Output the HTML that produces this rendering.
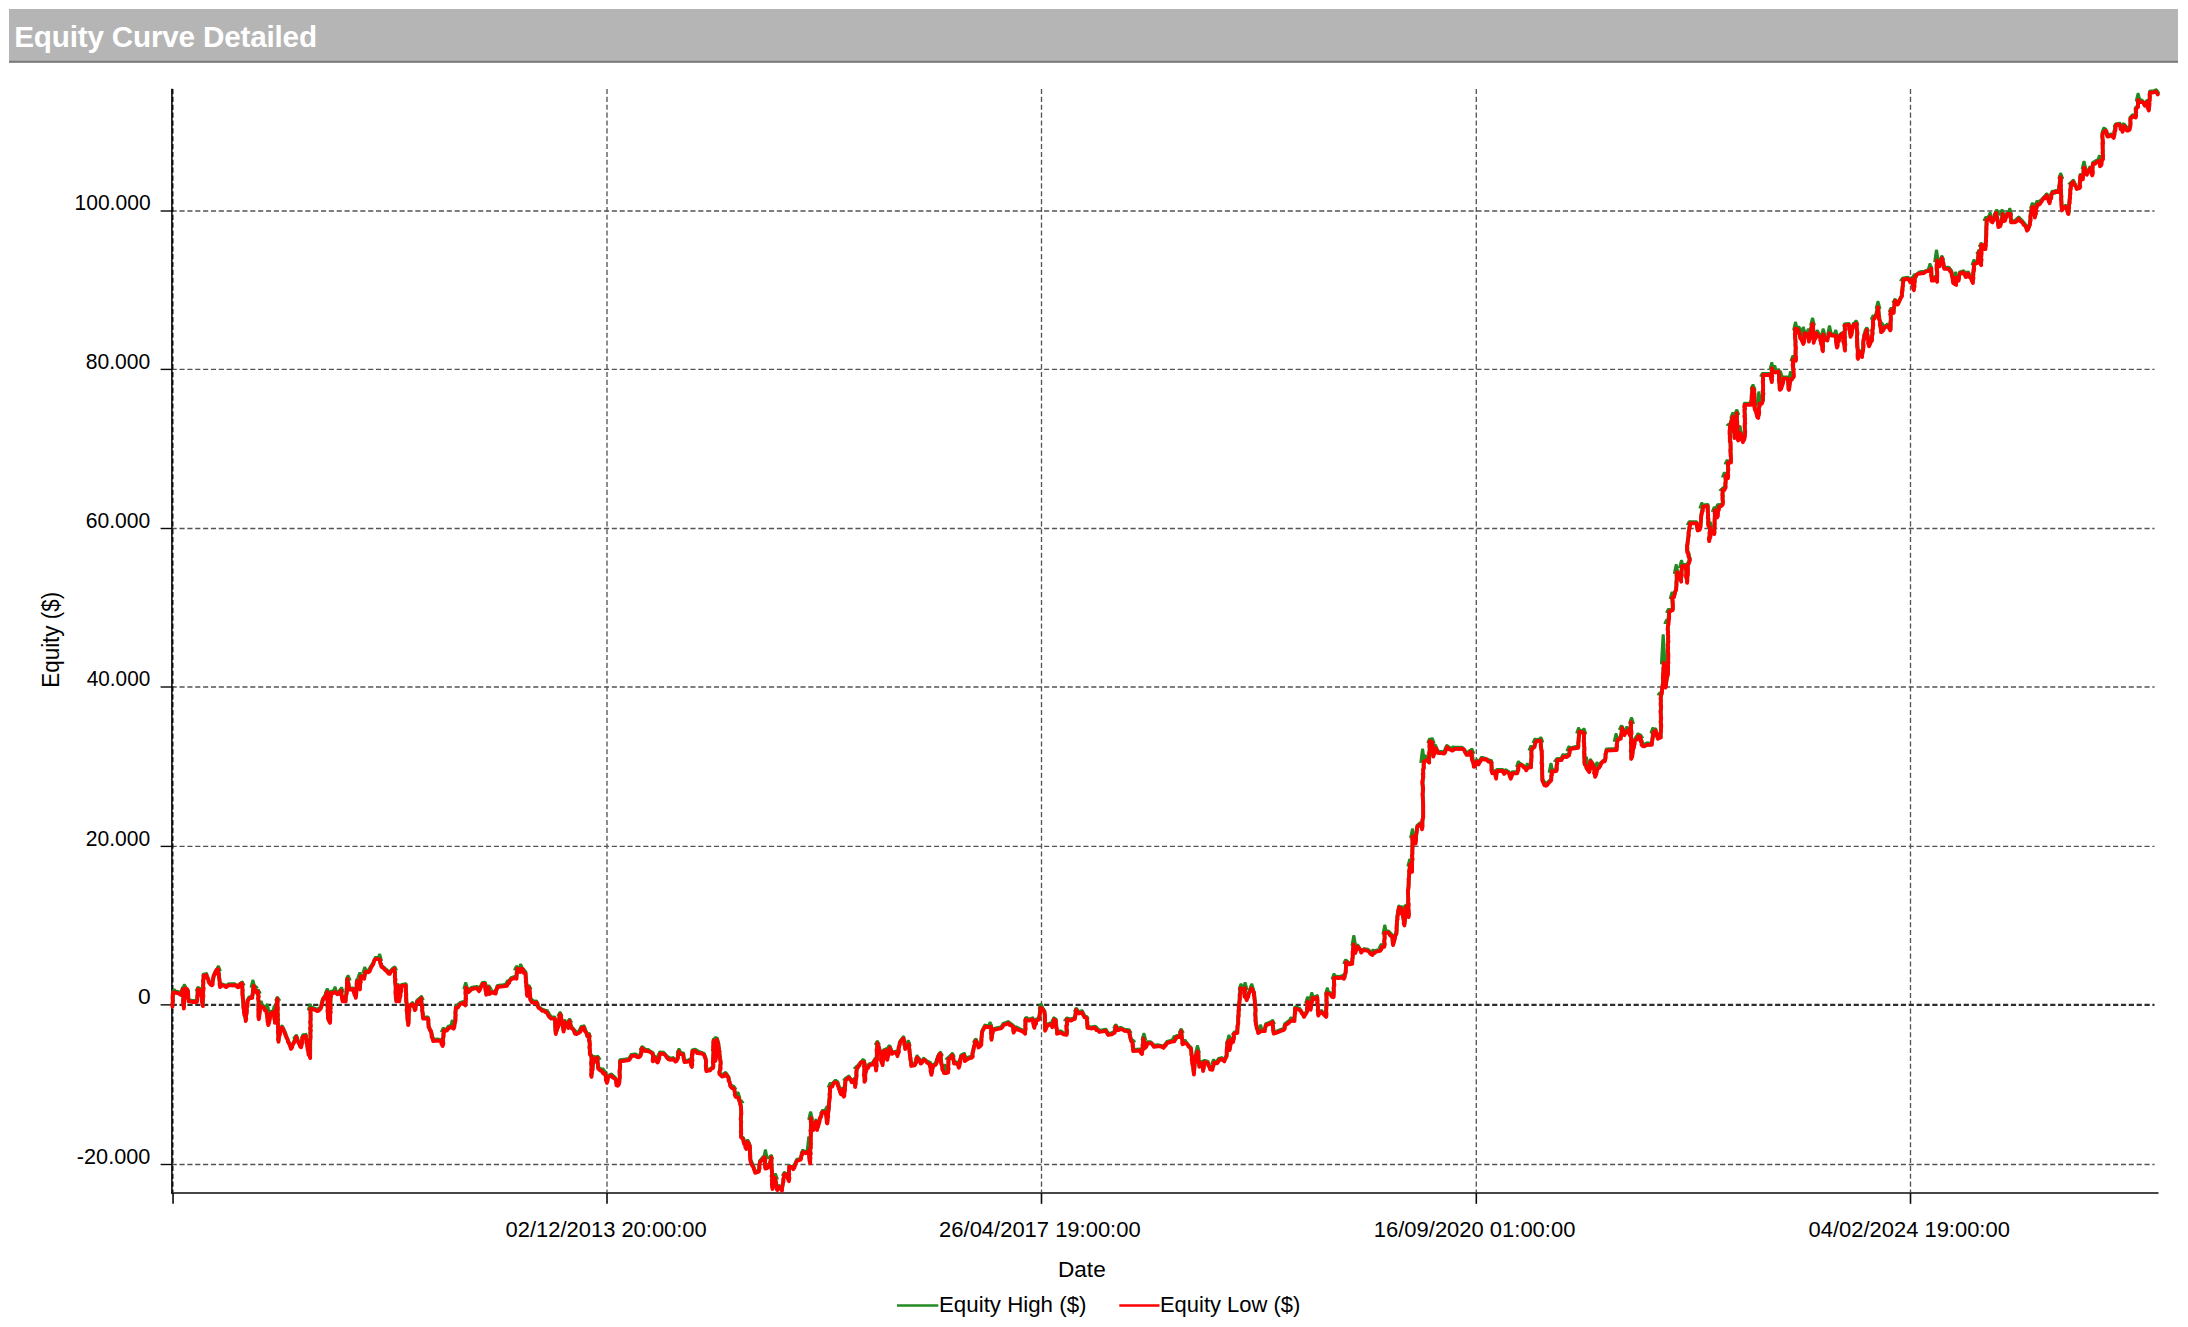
<!DOCTYPE html>
<html><head><meta charset="utf-8"><title>Equity Curve Detailed</title>
<style>
html,body{margin:0;padding:0;background:#fff;}
body{width:2188px;height:1327px;overflow:hidden;position:relative;font-family:"Liberation Sans",sans-serif;}
svg{position:absolute;left:0;top:0;}
text{font-family:"Liberation Sans",sans-serif;font-size:22.3px;fill:#000;}
</style></head><body>
<svg width="2188" height="1327" viewBox="0 0 2188 1327">

<rect x="9" y="9" width="2169" height="52" fill="#b5b5b5"/>
<rect x="9" y="60.8" width="2169" height="2" fill="#787878"/>
<text x="14.2" y="47.1" style="font-weight:bold;font-size:29.7px;fill:#fff;letter-spacing:-0.2px">Equity Curve Detailed</text>
<g stroke="#545454" stroke-width="1.33" stroke-dasharray="5.1 2.76" fill="none">
<path d="M171.65,211.0H2154.5"/>
<path d="M171.65,369.4H2154.5"/>
<path d="M171.65,528.5H2154.5"/>
<path d="M171.65,687.0H2154.5"/>
<path d="M171.65,846.4H2154.5"/>
<path d="M171.65,1164.5H2154.5"/>
<path d="M607,89V1192"/>
<path d="M1041.5,89V1192"/>
<path d="M1476.3,89V1192"/>
<path d="M1910.5,89V1192"/>
</g>
<path d="M171.65,1004.85H2154.5" stroke="#2e2e2e" stroke-width="2.2" stroke-dasharray="5.2 2.66" fill="none"/>
<path d="M172.75,89V1192" stroke="#161616" stroke-width="1.5" stroke-dasharray="5.2 2.66" fill="none"/>
<g stroke="#0a0a0a" stroke-width="1.6" fill="none">
<path d="M171.9,88.8V1193.7"/>
<path d="M171.1,1192.95H2158.5"/>
<path d="M160.6,211.0H172" stroke-width="1.4"/>
<path d="M160.6,369.4H172" stroke-width="1.4"/>
<path d="M160.6,528.5H172" stroke-width="1.4"/>
<path d="M160.6,687.0H172" stroke-width="1.4"/>
<path d="M160.6,846.4H172" stroke-width="1.4"/>
<path d="M160.6,1004.85H172" stroke-width="1.4"/>
<path d="M160.6,1164.5H172" stroke-width="1.4"/>
<path d="M173.05,1193V1203.8" stroke-width="1.6"/>
<path d="M607,1193V1203.8" stroke-width="1.6"/>
<path d="M1041.5,1193V1203.8" stroke-width="1.6"/>
<path d="M1476.3,1193V1203.8" stroke-width="1.6"/>
<path d="M1910.5,1193V1203.8" stroke-width="1.6"/>
</g>
<path d="M172.5,1005.6 L173.3,991.3 L177.9,991.9 L180.8,993.7 L182.6,988.3 L183.8,1007.4 L185,987.1 L188,990.7 L188.6,1000.2 L192.1,1000.8 L196.9,1000.8 L197.9,988.3 L199.9,988.9 L201.1,990.7 L202.9,1005 L203.5,974.6 L206.4,974 L208.8,981.2 L211.8,984.2 L214.8,972.8 L218.3,968.1 L220.1,985.9 L221.9,984.2 L226.1,985.9 L228.5,984.2 L233.8,984.2 L237.4,985.9 L242.1,982.4 L243.3,1005 L245.7,1019.9 L247.5,1000.2 L249.3,997.3 L252.3,996.7 L253.5,984.8 L255.2,988.3 L257,991.9 L258.2,990.7 L258.8,1018.1 L260.6,1005 L263.6,1006.2 L266.5,1009.8 L268.3,1024 L270.7,1012.1 L273.7,1010.9 L274.9,1021.7 L277.3,997.8 L278.5,1040.7 L280.2,1030 L282,1026.4 L285,1032.4 L288,1040.7 L291,1047.8 L294.5,1040.7 L296.3,1035.9 L298.1,1040.7 L301.1,1046.1 L302.9,1035.9 L305.8,1034.8 L308.2,1050.2 L310.2,1056.8 L310.6,1007.4 L314.8,1008.6 L317.1,1009.8 L320.7,1007.4 L322.5,1000.2 L325.5,994.9 L327.3,990.7 L327.9,1016.9 L330,1021.7 L330.8,991.9 L335,990.7 L337.4,993.1 L341,989.5 L342.7,1000.2 L345.7,1000.2 L347.5,977.6 L349.3,988.3 L352.9,988.3 L355.8,996.7 L357,980 L360,988.3 L360.6,975.2 L364.2,977.6 L366,970.5 L368.3,971.1 L373.1,963.3 L375.5,958 L379,958 L381.4,965.7 L385,968.7 L389.8,972.8 L392.1,969.3 L394.5,967.5 L396.3,1000.2 L398.1,984.8 L399.3,1000.2 L401.7,984.8 L405.8,984.2 L407,1012.1 L408.2,1024 L409.4,1006.2 L412.4,1003.1 L414.8,1009 L417.1,1000.7 L421.3,997.1 L421.9,1005.5 L423.1,1017.4 L427.9,1017.4 L428.5,1025.7 L431.4,1032.8 L433.2,1040 L437.4,1039.4 L441,1040 L442.7,1044.8 L443.9,1029.3 L446.9,1029.3 L448.7,1026.9 L451.1,1025.7 L453.5,1027.5 L455.2,1020.9 L455.8,1006.7 L460,1003.1 L463,1001.9 L465.4,1004.3 L466,986.4 L468.3,991.2 L471.9,987.6 L476.7,987 L479,990 L482.6,982.8 L485,982.8 L486.2,993.6 L488.6,986.4 L489.2,993 L492.1,991.2 L495.7,992.4 L497.5,985.8 L502.9,985.2 L507,984.6 L511.2,978.1 L514.8,976.9 L516.5,977.5 L517.1,967.4 L520.1,970.9 L521.3,967.4 L525.5,972.1 L527.3,994.8 L529,986.4 L530.2,998.3 L533.8,1001.9 L536.2,1001.3 L538.6,1006.7 L542.1,1009.6 L546.9,1011.4 L551.1,1017.4 L554.6,1017.4 L555.8,1032.8 L558.2,1025.7 L560.2,1013.2 L563.6,1030.5 L564.8,1020.9 L568.3,1026.9 L569.5,1019.8 L571.3,1026.9 L576.7,1032.8 L579,1031.7 L581.4,1026.9 L583.8,1026.3 L587.4,1035.2 L589.2,1034 L589.8,1053.1 L591.5,1055.5 L591.5,1075.7 L593.9,1057.8 L597.5,1056.7 L598.1,1067.4 L601.7,1069.8 L605.2,1072.1 L607,1081.7 L608.2,1075.7 L611.2,1074.5 L614.8,1077.5 L617.7,1084.6 L619.5,1080.5 L620.1,1060.2 L624.3,1059.6 L629,1059 L631.4,1054.9 L635,1054.3 L638.6,1056.1 L640.4,1054.9 L642.1,1047.1 L645.1,1049.5 L648.1,1050.1 L652.9,1053.1 L652.9,1060.2 L655.2,1056.7 L657.6,1061.4 L660,1052.5 L663.6,1052.7 L667.1,1056.8 L670.7,1058.6 L673.1,1058 L675.5,1060.4 L677.9,1057.4 L678.8,1050.3 L679.6,1052.7 L683.2,1053.3 L684.4,1061 L688.6,1060.4 L690.4,1059.2 L691.9,1065.8 L692.4,1050.3 L695.1,1049.7 L699.3,1052.1 L704,1053.8 L705.8,1058.6 L706.4,1069.9 L710,1069.3 L713,1066.9 L713.6,1039.6 L715.4,1059.8 L716.9,1038.4 L718.3,1043.1 L720.7,1062.7 L719.5,1072.9 L721.9,1075.3 L725.5,1072.9 L728.5,1077.1 L730.2,1084.8 L733.8,1087.2 L735.6,1095.5 L738.6,1096.7 L741,1106.2 L741,1136 L743.3,1138.4 L746.3,1147.9 L747.5,1140.8 L749.9,1145.5 L750.5,1159.8 L754,1168.1 L755.2,1171.7 L758.8,1170.5 L760,1161 L763,1157.4 L764.8,1156.2 L765.4,1167.5 L768.3,1164.6 L769.5,1165.8 L771.3,1156.2 L772.5,1187.8 L774.9,1176.5 L777.3,1189 L779,1186 L782,1189.6 L784.4,1172.9 L786.8,1174.1 L788.9,1180 L789.2,1165.8 L793.3,1168.1 L796.9,1159.8 L800.5,1158.6 L802.9,1150.9 L805.8,1152.1 L808.2,1150.3 L810.2,1162.2 L811,1116.9 L813.6,1128.8 L816,1120.5 L817.1,1128.8 L819.5,1120.5 L822.5,1111 L825.5,1111 L827.3,1122.3 L829,1105 L830.2,1086 L835,1081.2 L837.4,1081.8 L841,1093.1 L842.7,1088.4 L843.9,1095.5 L845.7,1078.8 L848.7,1076.5 L851.7,1081.2 L854.6,1078.8 L855.2,1086 L857,1066.9 L862.4,1061 L864.2,1061 L864.5,1080.6 L866.5,1066.9 L869.5,1064 L872.5,1063.4 L875.5,1058.6 L876.1,1069.3 L877.3,1041.9 L880.2,1051.5 L882.6,1064 L883.8,1050.3 L886.2,1049.1 L887.4,1058.6 L889.8,1046.7 L892.1,1052.7 L896.3,1051.5 L897.5,1055 L899.9,1041.9 L903.5,1037.2 L905.2,1047.9 L908.8,1043.1 L910,1055 L911.2,1064.8 L914.8,1064.2 L917.1,1056.4 L920.7,1062.4 L923.7,1058.8 L926.7,1061.2 L930.2,1063 L931.4,1073.7 L933.2,1064.8 L935.6,1063.6 L938,1056.4 L940.4,1052.8 L941.5,1063.6 L943.9,1071.9 L946.3,1071.9 L948.1,1071.3 L948.7,1057.6 L952.3,1054 L954,1062.4 L957.6,1062.4 L958.8,1066.5 L961.2,1055.2 L964.2,1054 L964.8,1060 L968.3,1057.6 L971.9,1056.4 L973.7,1047.5 L976.1,1039.8 L978.5,1046.3 L980.8,1044.5 L982,1031.4 L985,1025.5 L988.6,1026.1 L991,1025.5 L991.5,1038.6 L993.3,1029 L998.1,1027.8 L1001.1,1027.3 L1003.5,1023.7 L1008.2,1021.9 L1013,1025.5 L1013.6,1031.4 L1016,1027.3 L1019.5,1029 L1022.5,1030.2 L1025.2,1032.6 L1025.7,1018.3 L1029,1019.5 L1032.6,1018.3 L1034.4,1026.7 L1036.2,1019.5 L1039.2,1018.3 L1040.4,1006.4 L1042.1,1007.6 L1044.5,1011.2 L1045.1,1029.6 L1047.5,1024.3 L1051.1,1023.1 L1052.3,1026.1 L1054,1018.3 L1055.8,1019.5 L1057,1032.6 L1060.6,1031.4 L1063.6,1033.2 L1066.5,1033.8 L1066.9,1018.3 L1070.7,1019.5 L1074.9,1017.7 L1076.1,1008.8 L1079,1012.4 L1082,1011.2 L1084.4,1015.9 L1086.8,1017.1 L1087.4,1026.7 L1091,1027.3 L1095.1,1026.7 L1099.3,1030.8 L1102.9,1030.2 L1105.8,1029.6 L1108.2,1033.8 L1111.8,1033.2 L1114.8,1031.4 L1115.7,1025.5 L1118.3,1029 L1120.7,1027.8 L1124.3,1029.6 L1129,1030.2 L1130.8,1038.6 L1132.6,1042.1 L1133.2,1049.9 L1139.8,1049.3 L1142.1,1052.8 L1143.3,1037.4 L1145.1,1046.9 L1147.5,1042.1 L1150.5,1042.1 L1154,1045.7 L1157.6,1045.1 L1163.6,1046.7 L1167.1,1041.9 L1170.7,1040.7 L1174.3,1040.1 L1176.7,1035.9 L1179.6,1035.9 L1181.2,1030 L1182.6,1043.1 L1185.6,1041.9 L1188.6,1045.5 L1191,1047.8 L1192.1,1059.8 L1193.9,1073.4 L1195.7,1055 L1197.9,1050.2 L1199.3,1065.7 L1201.7,1062.1 L1203.1,1069.9 L1204.6,1060.9 L1207.6,1061.5 L1210,1068.1 L1212.4,1068.7 L1214.2,1061.5 L1217.1,1062.1 L1219.5,1058.6 L1221.9,1058 L1224.3,1060.3 L1226.7,1055 L1227.3,1041.9 L1229,1039.5 L1229.6,1049 L1231.4,1038.3 L1233.2,1040.7 L1234.4,1032.4 L1237.4,1031.8 L1238.6,1012.1 L1240.4,987.1 L1242.7,988.3 L1245.1,987.1 L1244.5,995.5 L1246.7,999 L1248.7,993.1 L1251.1,987.1 L1254,991.9 L1255.2,1005 L1255.8,1022.8 L1258.2,1031.8 L1261.2,1030 L1264.8,1030 L1266,1024 L1269.5,1022.8 L1272.5,1021.1 L1273.7,1032.4 L1277.3,1031.2 L1280.2,1030 L1283.8,1028.8 L1285,1024 L1289.8,1020.5 L1292.1,1019.3 L1294.5,1019.9 L1295.1,1007.4 L1299.3,1008.6 L1301.7,1012.1 L1304,1015.7 L1307,1010.9 L1307.6,1000.2 L1310.6,1008.6 L1312.4,996.7 L1314.8,997.8 L1317.1,996.1 L1318.3,1014.5 L1321.3,1010.9 L1323.7,1013.3 L1326.1,1015.7 L1326.7,991.9 L1330.2,993.1 L1333.2,996.1 L1334.4,976.4 L1338.6,977 L1341.5,976.4 L1343.9,977.6 L1345.7,971.7 L1346.3,960.9 L1349.3,963.3 L1352.3,962.7 L1353.5,943.1 L1355.2,952 L1357.6,945.5 L1361.2,951.4 L1364.2,949 L1367.7,949.6 L1372.5,953.8 L1375.5,950.8 L1380.2,949.6 L1382,945.5 L1384.2,945.7 L1384.8,931.4 L1388.3,931.4 L1391.9,935 L1393.1,943.9 L1394.9,937.4 L1396.7,930.2 L1397.3,915.9 L1399,906.4 L1401.4,907.6 L1404.4,924.3 L1406.8,905.2 L1408.6,915.9 L1408,892.1 L1408.6,885 L1409.8,863.5 L1411,865.9 L1412.1,870.7 L1412.5,835.2 L1415.5,842.4 L1417.3,825.7 L1420.2,823.3 L1422,828.1 L1423.2,813.8 L1422.6,784 L1423.8,760.2 L1426.8,759 L1429.2,761.4 L1429.8,740 L1432.1,741.2 L1433.3,755.5 L1435.7,747.1 L1438.1,751.9 L1441.7,751.9 L1444,752.5 L1447,745.9 L1450,748.3 L1452.4,749.5 L1454.8,747.7 L1461.9,747.7 L1464.9,750.7 L1466.7,753.7 L1470.2,750.7 L1471.4,750.7 L1473.8,765.6 L1476.8,760.2 L1478.6,763.2 L1481.5,757.8 L1484.5,758.4 L1488.1,760.2 L1491.1,760.8 L1492.3,772.1 L1495.2,770.9 L1496.2,777.5 L1497,769.8 L1502.4,769.8 L1504.2,772.7 L1506,770.3 L1508.9,772.1 L1510.7,777.5 L1512.5,772.1 L1517.3,772.1 L1518.5,765 L1520.2,763.8 L1523.8,766.2 L1526.2,769.2 L1528.6,766.2 L1531,766.2 L1531.5,748.3 L1534.5,745.9 L1536.3,740 L1540.5,739.4 L1541.7,753.1 L1542.3,779.3 L1545.8,784.6 L1548.8,781.7 L1551.2,779.3 L1551.8,769.8 L1554.8,770.3 L1556.5,769.8 L1557.1,759 L1561.3,759 L1564.3,755.5 L1569,754.3 L1570.2,748.3 L1575,747.1 L1578,746.5 L1579.2,730.5 L1583.9,731.7 L1584.5,762.6 L1587.5,768.6 L1589.3,770.9 L1590.5,760.2 L1593.5,765 L1595.2,775.7 L1597.6,767.4 L1601.2,762.6 L1604.8,760.2 L1606.5,749.5 L1616.7,748.9 L1617.3,738.8 L1620.8,737.6 L1622,726.9 L1624.4,734 L1627.4,729.3 L1629.8,734 L1631,720.9 L1631.2,757.8 L1633.9,745.9 L1635.1,738.8 L1638.1,735.2 L1640,735.2 L1642.4,744.8 L1647.1,743.6 L1651.9,743.6 L1653.1,731.7 L1655.5,729.3 L1657.9,737.6 L1660.8,736.4 L1660.8,695.9 L1662,691.2 L1663.2,679.3 L1663.8,661.4 L1665.6,686.4 L1668,672.1 L1668,624.5 L1669.2,610.2 L1672.7,609 L1672.1,596.5 L1673.9,595.9 L1676.2,588.8 L1676.8,570.9 L1679.2,573.3 L1681.2,580.5 L1681.9,565 L1685.7,565 L1687.1,581.7 L1687.9,563.8 L1689.9,559 L1686.9,548.3 L1689.9,522.1 L1696.4,522.1 L1697.6,529.3 L1700.6,525.7 L1701.2,515 L1703,505.5 L1707.7,504.9 L1708.3,524.5 L1710.1,526.3 L1709.2,540 L1711.3,530.5 L1714.3,532.8 L1714.9,509 L1717.3,516.2 L1719,505.5 L1722.6,503.7 L1722.6,488.8 L1725.6,486.4 L1725.6,474.5 L1728,476.9 L1728,461.4 L1731,461.4 L1729.8,426.2 L1732.7,415.5 L1734.5,436.9 L1736.7,411.9 L1738.1,439.3 L1740.5,432.1 L1742.9,441.1 L1745,433.3 L1744.6,403.6 L1751.2,403.6 L1752.4,386.9 L1754.2,389.3 L1754.8,408.3 L1758.3,416.7 L1759.5,402.4 L1761.9,402.4 L1763.1,398.8 L1763.1,373.8 L1770.2,373.8 L1771.8,380.9 L1771.8,367.2 L1773.2,370.2 L1775.6,371.4 L1778.6,370.2 L1779.8,388.7 L1782.1,384.5 L1783.3,377.4 L1787.5,377.4 L1789,388.7 L1790.5,379.8 L1793.5,376.2 L1792.9,358.3 L1795.8,359.5 L1795.2,327.4 L1798.2,328.6 L1801.2,338.1 L1803.3,342.8 L1804.8,332.1 L1807.7,333.3 L1808.9,340.5 L1811.3,327.4 L1812.5,322.6 L1813.7,341.7 L1816.7,332.1 L1820.2,335.7 L1822.9,350 L1823.2,333.3 L1824.4,338.1 L1827.4,339.3 L1829.2,332.1 L1832.1,334.5 L1835.7,334.5 L1836.9,346.4 L1839.3,335.7 L1842.3,333.3 L1845,349.4 L1844.6,324.4 L1848.8,323.8 L1850.6,335.7 L1853.6,323.8 L1856.5,322.6 L1857.7,348.8 L1858.1,357.7 L1860.1,351.2 L1862.1,355.9 L1864.3,334.5 L1866.7,328.6 L1869,345.2 L1872,339.3 L1873.2,319 L1876.2,314.3 L1878,305.9 L1879.8,321.4 L1881,330.9 L1884.5,326.2 L1888.1,325 L1890.2,329.2 L1890.7,324.8 L1890.7,309.3 L1893.7,311.7 L1894.9,299.8 L1897.9,303.3 L1902,295 L1903.2,278.3 L1908,277.7 L1910.4,281.3 L1911.5,278.3 L1913.9,289 L1915.1,275.9 L1919.3,272.4 L1924,271.8 L1928.8,270 L1931.2,267.6 L1931.8,279.5 L1934.8,277.1 L1937.1,280.7 L1936.9,259.3 L1939.5,265.2 L1941.9,256.9 L1944.3,267.6 L1948.5,267.6 L1951.4,271.2 L1953.2,281.9 L1956.2,283.7 L1955.6,276.5 L1958.6,279.5 L1959.8,272.4 L1963.3,271.2 L1965.7,275.9 L1968.1,272.4 L1972.9,281.9 L1974,262.8 L1977.6,261.7 L1978.8,250.9 L1981.2,264 L1981.2,243.8 L1985.4,248 L1986,236.7 L1986.5,218.8 L1990.1,215.8 L1992.5,221.2 L1996.1,211.7 L1998.5,225.9 L2001.4,221.2 L2002.6,212.8 L2004.4,220 L2007.4,212.8 L2010.4,212.8 L2011,221.2 L2014.5,221.2 L2018.7,217.6 L2022.3,221.2 L2025.2,224.8 L2027,229.5 L2030,223.6 L2030.6,214 L2032.4,205.7 L2034.8,216.4 L2037.1,203.3 L2041.9,199.8 L2046.7,194.4 L2049.6,202.1 L2052,192.6 L2056.2,190.8 L2058.6,190.8 L2059,189 L2060.4,175.9 L2061.9,209.3 L2065.5,205.7 L2068.5,212.8 L2070.9,183.1 L2073.2,180.7 L2076.8,187.8 L2079.8,186.7 L2080.4,174.8 L2082.8,178.3 L2084,166.4 L2086.9,173.6 L2089.9,167.6 L2092.3,174.2 L2092.9,162.8 L2097,160.5 L2099.4,159.8 L2100,165.2 L2103,158.1 L2102.4,133.1 L2105.4,129.5 L2107.8,135.5 L2111.3,134.3 L2113.7,136.7 L2115.5,124.8 L2119.7,123.6 L2122.6,130.7 L2124.4,124.8 L2128,129.5 L2130.4,124.8 L2130.4,117.6 L2132.8,115.2 L2135.7,116.4 L2135.7,108.1 L2138.1,105.7 L2138.1,98.6 L2142.3,100.9 L2144.7,104.5 L2147,100.9 L2148.8,109.3 L2150,91.4 L2153,91.4 L2156,90.2 L2157.8,93.2" stroke="#228b22" stroke-width="3.8" fill="none" stroke-linejoin="round" stroke-linecap="round"/>
<path d="M171.8,993.5L173.5,989.3L175.1,989.3L176.8,993.5ZM181.9,989.3L183.6,984.6L185.2,984.6L186.9,989.3ZM195.6,990.5L197.3,987L198.9,987L200.6,990.5ZM215.8,970.3L217.5,966.1L219.1,966.1L220.8,970.3ZM231.9,986.4L233.6,983.4L235.2,983.4L236.9,986.4ZM239.6,984.6L241.3,982.2L242.9,982.2L244.6,984.6ZM250.4,987L252.1,980.4L253.7,980.4L255.4,987ZM252.7,987.412L254.4,985.8L256,985.8L257.7,987.412ZM255.7,992.9L257.4,989.9L259,989.9L260.7,992.9ZM258.7,1007.2L260.4,1001.2L262,1001.2L263.7,1007.2ZM264.6,1010.88L266.3,1004.2L267.9,1004.2L269.6,1010.88ZM271.8,1013.1L273.5,1006L275.1,1006L276.8,1013.1ZM275.1,1000L276.8,997.7L278.4,997.7L280.1,1000ZM279.5,1028.6L281.2,1026.2L282.8,1026.2L284.5,1028.6ZM293.2,1038.1L294.9,1035.8L296.5,1035.8L298.2,1038.1ZM301,1037.3L302.7,1034L304.3,1034L306,1037.3ZM307.7,1009.6L309.4,1004.2L311,1004.2L312.7,1009.6ZM324.8,992.9L326.5,988.7L328.1,988.7L329.8,992.9ZM332.5,992.9L334.2,987L335.8,987L337.5,992.9ZM339,991.7L340.7,987.5L342.3,987.5L344,991.7ZM345.6,979.8L347.3,975.6L348.9,975.6L350.6,979.8ZM357.3,977.4L359,972.7L360.6,972.7L362.3,977.4ZM362.3,972.7L364,967.3L365.6,967.3L367.3,972.7ZM377.1,960.2L378.8,954.2L380.4,954.2L382.1,960.2ZM392,969.7L393.7,966.7L395.3,966.7L397,969.7ZM418.8,999.3L420.5,996.4L422.1,996.4L423.8,999.3ZM440.8,1031.5L442.5,1027.9L444.1,1027.9L445.8,1031.5ZM446.2,1028.35L447.9,1025.5L449.5,1025.5L451.2,1028.35ZM449.8,1027.9L451.5,1020.2L453.1,1020.2L454.8,1027.9ZM463.2,988.6L464.9,982.7L466.5,982.7L468.2,988.6ZM468.8,989.688L470.5,987.4L472.1,987.4L473.8,989.688ZM475.4,989.2L477.1,986.2L478.7,986.2L480.4,989.2ZM481.9,985L483.6,981.5L485.2,981.5L486.9,985ZM486.7,988.6L488.4,986.2L490,986.2L491.7,988.6ZM505.1,983.55L506.8,980.3L508.4,980.3L510.1,983.55ZM514,969.6L515.7,966L517.3,966L519,969.6ZM518.2,969.6L519.9,964.2L521.5,964.2L523.2,969.6ZM526.5,988.6L528.2,985.6L529.8,985.6L531.5,988.6ZM533.7,1003.5L535.4,1001.1L537,1001.1L538.7,1003.5ZM544.4,1013.04L546.1,1010L547.7,1010L549.4,1013.04ZM557.5,1015.4L559.2,1012.4L560.8,1012.4L562.5,1015.4ZM567,1022L568.7,1019L570.3,1019L572,1022ZM580.7,1028.5L582.4,1026.1L584,1026.1L585.7,1028.5ZM586.1,1036.2L587.8,1033.9L589.4,1033.9L591.1,1036.2ZM591.4,1059.54L593.1,1055.9L594.7,1055.9L596.4,1059.54ZM595.6,1058.9L597.3,1056.5L598.9,1056.5L600.6,1058.9ZM600.4,1071.8L602.1,1068.4L603.7,1068.4L605.4,1071.8ZM608.7,1076.7L610.4,1073.7L612,1073.7L613.7,1076.7ZM615.2,1083.13L616.9,1079.1L618.5,1079.1L620.2,1083.13ZM629.5,1056.75L631.2,1054.1L632.8,1054.1L634.5,1056.75ZM639.6,1049.3L641.3,1047L642.9,1047L644.6,1049.3ZM645,1051.88L646.7,1048.7L648.3,1048.7L650,1051.88ZM657.5,1054.7L659.2,1052.3L660.8,1052.3L662.5,1054.7ZM676.5,1052.5L678.2,1048.9L679.8,1048.9L681.5,1052.5ZM692,1051.9L693.7,1048.9L695.3,1048.9L697,1051.9ZM712.9,1040.6L714.6,1037L716.2,1037L717.9,1040.6ZM723,1075.1L724.7,1072.7L726.3,1072.7L728,1075.1ZM731.3,1088.4L733,1086.4L734.6,1086.4L736.3,1088.4ZM735.5,1098.06L737.2,1092.4L738.8,1092.4L740.5,1098.06ZM738.5,1102.46L740.2,1100.1L741.8,1100.1L743.5,1102.46ZM745,1143L746.7,1140L748.3,1140L750,1143ZM762.9,1158.4L764.6,1150.1L766.2,1150.1L767.9,1158.4ZM768.2,1158.4L769.9,1155.5L771.5,1155.5L773.2,1158.4ZM773,1178.7L774.7,1173.9L776.3,1173.9L778,1178.7ZM781.9,1175.1L783.6,1172.7L785.2,1172.7L786.9,1175.1ZM800.4,1153.1L802.1,1150.1L803.7,1150.1L805.4,1153.1ZM808.1,1119.1L809.8,1112L811.4,1112L813.1,1119.1ZM806.3,1152.5L808,1137L809.6,1137L811.3,1152.5ZM820,1113.2L821.7,1110.8L823.3,1110.8L825,1113.2ZM824.8,1109.24L826.5,1106L828.1,1106L829.8,1109.24ZM827.7,1086.7L829.4,1082.8L831,1082.8L832.7,1086.7ZM833.1,1083.4L834.8,1079.9L836.4,1079.9L838.1,1083.4ZM843.2,1079.85L844.9,1078.1L846.5,1078.1L848.2,1079.85ZM853.9,1068.12L855.6,1066.2L857.2,1066.2L858.9,1068.12ZM860.5,1063.2L862.2,1059L863.8,1059L865.5,1063.2ZM874.8,1044.1L876.5,1041.8L878.1,1041.8L879.8,1044.1ZM886.7,1048.9L888.4,1045.3L890,1045.3L891.7,1048.9ZM905.7,1045.3L907.4,1040.6L909,1040.6L910.7,1045.3ZM915.2,1058.6L916.9,1056.8L918.5,1056.8L920.2,1058.6ZM937.9,1055L939.6,1052.7L941.2,1052.7L942.9,1055ZM942,1070.99L943.7,1064.6L945.3,1064.6L947,1070.99ZM945.6,1058.9L947.3,1057.4L948.9,1057.4L950.6,1058.9ZM949.8,1056.2L951.5,1053.3L953.1,1053.3L954.8,1056.2ZM961.1,1056.2L962.8,1053.3L964.4,1053.3L966.1,1056.2ZM973,1042L974.7,1039L976.3,1039L978,1042ZM983.1,1027.7L984.8,1025.9L986.4,1025.9L988.1,1027.7ZM987.6,1027.7L989.3,1022.3L990.9,1022.3L992.6,1027.7ZM1005.7,1024.1L1007.4,1022.3L1009,1022.3L1010.7,1024.1ZM1024.2,1020.5L1025.9,1017L1027.5,1017L1029.2,1020.5ZM1032.5,1021.58L1034.2,1019.3L1035.8,1019.3L1037.5,1021.58ZM1038.5,1008.6L1040.2,1003.9L1041.8,1003.9L1043.5,1008.6ZM1051.5,1020.5L1053.2,1018.1L1054.8,1018.1L1056.5,1020.5ZM1058.1,1033.6L1059.8,1030.6L1061.4,1030.6L1063.1,1033.6ZM1064,1020.5L1065.7,1018.1L1067.3,1018.1L1069,1020.5ZM1073.9,1011L1075.6,1008.6L1077.2,1008.6L1078.9,1011ZM1078.9,1013.4L1080.6,1010.4L1082.2,1010.4L1083.9,1013.4ZM1083.7,1018.25L1085.4,1016.4L1087,1016.4L1088.7,1018.25ZM1093.2,1028.9L1094.9,1026.5L1096.5,1026.5L1098.2,1028.9ZM1113.2,1027.7L1114.9,1024.7L1116.5,1024.7L1118.2,1027.7ZM1118.2,1030L1119.9,1027.7L1121.5,1027.7L1123.2,1030ZM1126.5,1032.21L1128.2,1030L1129.8,1030L1131.5,1032.21ZM1130.1,1041.38L1131.8,1039.6L1133.4,1039.6L1135.1,1041.38ZM1141.4,1039.6L1143.1,1033.6L1144.7,1033.6L1146.4,1039.6ZM1148,1044.3L1149.7,1042.5L1151.3,1042.5L1153,1044.3ZM1171.8,1039.67L1173.5,1035.8L1175.1,1035.8L1176.8,1039.67ZM1178.7,1032.2L1180.4,1029.2L1182,1029.2L1183.7,1032.2ZM1182.5,1044.1L1184.2,1039.9L1185.8,1039.9L1187.5,1044.1ZM1195,1052.4L1196.7,1045.9L1198.3,1045.9L1200,1052.4ZM1201,1063.1L1202.7,1060.2L1204.3,1060.2L1206,1063.1ZM1211.1,1063.7L1212.8,1059.6L1214.4,1059.6L1216.1,1063.7ZM1216.4,1060.58L1218.1,1057.8L1219.7,1057.8L1221.4,1060.58ZM1226.5,1041.7L1228.2,1035.2L1229.8,1035.2L1231.5,1041.7ZM1231.9,1034.3L1233.6,1032.2L1235.2,1032.2L1236.9,1034.3ZM1238.5,989.3L1240.2,984L1241.8,984L1243.5,989.3ZM1242.6,989.3L1244.3,982.8L1245.9,982.8L1247.6,989.3ZM1249.2,989.3L1250.9,984L1252.5,984L1254.2,989.3ZM1258.1,1032.2L1259.8,1025L1261.4,1025L1263.1,1032.2ZM1264.6,1025.31L1266.3,1022.7L1267.9,1022.7L1269.6,1025.31ZM1270,1023.3L1271.7,1020.3L1273.3,1020.3L1275,1023.3ZM1288.5,1021.5L1290.2,1017.3L1291.8,1017.3L1293.5,1021.5ZM1293.8,1009.6L1295.5,1006.6L1297.1,1006.6L1298.8,1009.6ZM1305.1,1002.4L1306.8,997.1L1308.4,997.1L1310.1,1002.4ZM1309.3,998.9L1311,992.9L1312.6,992.9L1314.3,998.9ZM1313.5,998.3L1315.2,995.9L1316.8,995.9L1318.5,998.3ZM1324.8,994.1L1326.5,988.1L1328.1,988.1L1329.8,994.1ZM1331.5,978.6L1333.2,973.9L1334.8,973.9L1336.5,978.6ZM1340.8,976.85L1342.5,974.5L1344.1,974.5L1345.8,976.85ZM1343.2,963.1L1344.9,959.6L1346.5,959.6L1348.2,963.1ZM1351.3,945.3L1353,935.8L1354.6,935.8L1356.3,945.3ZM1355.1,947.7L1356.8,945.3L1358.4,945.3L1360.1,947.7ZM1370.6,953.9L1372.3,949.5L1373.9,949.5L1375.6,953.9ZM1378.7,947.7L1380.4,944.1L1382,944.1L1383.7,947.7ZM1382.3,933.6L1384,925.3L1385.6,925.3L1387.3,933.6ZM1399.5,909.35L1401.2,906.2L1402.8,906.2L1404.5,909.35ZM1403.1,907.4L1404.8,905L1406.4,905L1408.1,907.4ZM1407.3,865.7L1409,859.2L1410.6,859.2L1412.3,865.7ZM1410,837.4L1411.7,829.1L1413.3,829.1L1415,837.4ZM1420.1,762.28L1421.8,749.3L1423.4,749.3L1425.1,762.28ZM1423.1,761.2L1424.8,755.3L1426.4,755.3L1428.1,761.2ZM1427.3,742.2L1429,738.6L1430.6,738.6L1432.3,742.2ZM1429.6,742.617L1431.3,738L1432.9,738L1434.6,742.617ZM1432.6,749.3L1434.3,744.6L1435.9,744.6L1437.6,749.3ZM1444.5,748.1L1446.2,746.4L1447.8,746.4L1449.5,748.1ZM1450.5,750.125L1452.2,746.4L1453.8,746.4L1455.5,750.125ZM1456.4,749.9L1458.1,747L1459.7,747L1461.4,749.9ZM1469.3,752.9L1471,748.7L1472.6,748.7L1474.3,752.9ZM1479.6,760L1481.3,757.1L1482.9,757.1L1484.6,760ZM1488,762.58L1489.7,760L1491.3,760L1493,762.58ZM1501.7,772.483L1503.4,769.6L1505,769.6L1506.7,772.483ZM1516,766.141L1517.7,761.2L1519.3,761.2L1521,766.141ZM1524.9,768.4L1526.6,763.6L1528.2,763.6L1529.9,768.4ZM1528.5,749.7L1530.2,745.8L1531.8,745.8L1533.5,749.7ZM1532.6,742.157L1534.3,738.6L1535.9,738.6L1537.6,742.157ZM1538.3,741.6L1540,737.4L1541.6,737.4L1543.3,741.6ZM1548.5,772L1550.2,763.6L1551.8,763.6L1553.5,772ZM1554,761.2L1555.7,758.9L1557.3,758.9L1559,761.2ZM1560.6,757.623L1562.3,754.1L1563.9,754.1L1565.6,757.623ZM1566.5,750.425L1568.2,746.4L1569.8,746.4L1571.5,750.425ZM1573.7,748.76L1575.4,745.8L1577,745.8L1578.7,748.76ZM1576.1,732.7L1577.8,727.9L1579.4,727.9L1581.1,732.7ZM1581.4,733.517L1583.1,728.5L1584.7,728.5L1586.4,733.517ZM1583.8,765.4L1585.5,757.1L1587.1,757.1L1588.8,765.4ZM1594.5,768.4L1596.2,762.4L1597.8,762.4L1599.5,768.4ZM1613.6,740.897L1615.3,733.9L1616.9,733.9L1618.6,740.897ZM1618.9,729.1L1620.6,725.5L1622.2,725.5L1623.9,729.1ZM1624.3,731.5L1626,726.7L1627.6,726.7L1629.3,731.5ZM1629,723.1L1630.7,717.8L1632.3,717.8L1634,723.1ZM1635.6,737.4L1637.3,733.3L1638.9,733.3L1640.6,737.4ZM1638.1,737.4L1639.8,735L1641.4,735L1643.1,737.4ZM1645.2,745.8L1646.9,742.2L1648.5,742.2L1650.2,745.8ZM1650.4,732.6L1652.1,727.9L1653.7,727.9L1655.4,732.6ZM1657.7,694.575L1659.4,692.2L1661,692.2L1662.7,694.575ZM1660.7,663.6L1662.4,662.4L1664,662.4L1665.7,663.6ZM1660.7,663.6L1662.4,648.1L1664,648.1L1665.7,663.6ZM1660.7,663.6L1662.4,635L1664,635L1665.7,663.6ZM1664.3,623.125L1666,619.6L1667.6,619.6L1669.3,623.125ZM1666.1,612.091L1667.8,608.9L1669.4,608.9L1671.1,612.091ZM1669.6,598.2L1671.3,592.2L1672.9,592.2L1674.6,598.2ZM1673.7,573.1L1675.4,564.8L1677,564.8L1678.7,573.1ZM1679,567.2L1680.7,560.6L1682.3,560.6L1684,567.2ZM1686.8,524.3L1688.5,521.4L1690.1,521.4L1691.8,524.3ZM1699.3,507.662L1701,502.9L1702.6,502.9L1704.3,507.662ZM1711.8,511.2L1713.5,507.1L1715.1,507.1L1716.8,511.2ZM1707.6,527L1709.3,522L1710.9,522L1712.6,527ZM1715.4,507.5L1717.1,504.1L1718.7,504.1L1720.4,507.5ZM1719.5,490.28L1721.2,488.6L1722.8,488.6L1724.5,490.28ZM1721.9,476.7L1723.6,472.5L1725.2,472.5L1726.9,476.7ZM1724.6,463.6L1726.3,460L1727.9,460L1729.6,463.6ZM1726.7,425.079L1728.4,423.6L1730,423.6L1731.7,425.079ZM1730.2,417.7L1731.9,412.9L1733.5,412.9L1735.2,417.7ZM1734.2,414.1L1735.9,409.9L1737.5,409.9L1739.2,414.1ZM1737.4,434.3L1739.1,426L1740.7,426L1742.4,434.3ZM1750.5,389.1L1752.2,384.9L1753.8,384.9L1755.5,389.1ZM1756.4,404.6L1758.1,392.1L1759.7,392.1L1761.4,404.6ZM1760.2,376L1761.9,373L1763.5,373L1765.2,376ZM1769.3,369.4L1771,362.9L1772.6,362.9L1774.3,369.4ZM1772.3,372.45L1774,365.9L1775.6,365.9L1777.3,372.45ZM1777.9,377.025L1779.6,371.2L1781.2,371.2L1782.9,377.025ZM1788,380.2L1789.7,371.8L1791.3,371.8L1793,380.2ZM1790.4,360.5L1792.1,355.8L1793.7,355.8L1795.4,360.5ZM1793,329.6L1794.7,322.4L1796.3,322.4L1798,329.6ZM1796.3,330.44L1798,326.6L1799.6,326.6L1801.3,330.44ZM1800.8,334.3L1802.5,327.2L1804.1,327.2L1805.8,334.3ZM1805.8,335.128L1807.5,329L1809.1,329L1810.8,335.128ZM1810,324.8L1811.7,318.3L1813.3,318.3L1815,324.8ZM1814.8,334.3L1816.5,330.2L1818.1,330.2L1819.8,334.3ZM1820.7,335.5L1822.4,329L1824,329L1825.7,335.5ZM1827,334.3L1828.7,326L1830.3,326L1832,334.3ZM1833.2,336.7L1834.9,330.2L1836.5,330.2L1838.2,336.7ZM1839.2,335.5L1840.9,332.5L1842.5,332.5L1844.2,335.5ZM1843.3,326.214L1845,323.6L1846.6,323.6L1848.3,326.214ZM1853.5,324.8L1855.2,320.6L1856.8,320.6L1858.5,324.8ZM1864.2,330.8L1865.9,327.8L1867.5,327.8L1869.2,330.8ZM1870.7,318.85L1872.4,315.3L1874,315.3L1875.7,318.85ZM1875.5,308.1L1877.2,301.6L1878.8,301.6L1880.5,308.1ZM1879,325.183L1880.7,322.4L1882.3,322.4L1884,325.183ZM1885,327.2L1886.7,323.6L1888.3,323.6L1890,327.2ZM1888.8,311.5L1890.5,307.9L1892.1,307.9L1893.8,311.5ZM1892.4,302L1894.1,299.6L1895.7,299.6L1897.4,302ZM1900.1,280.387L1901.8,278.1L1903.4,278.1L1905.1,280.387ZM1912,277.35L1913.7,274L1915.3,274L1917,277.35ZM1919.2,274.102L1920.9,271L1922.5,271L1924.2,274.102ZM1927.5,269.8L1929.2,263.9L1930.8,263.9L1932.5,269.8ZM1934,261.5L1935.7,250.2L1937.3,250.2L1939,261.5ZM1939.4,259.1L1941.1,256.7L1942.7,256.7L1944.4,259.1ZM1946.5,269.8L1948.2,267.4L1949.8,267.4L1951.5,269.8ZM1953.1,278.7L1954.8,272.2L1956.4,272.2L1958.1,278.7ZM1963.2,275.163L1964.9,271.6L1966.5,271.6L1968.2,275.163ZM1971.5,264.542L1973.2,259.7L1974.8,259.7L1976.5,264.542ZM1976.3,253.1L1978,251.4L1979.6,251.4L1981.3,253.1ZM1978.7,246L1980.4,243.6L1982,243.6L1983.7,246ZM1983.5,220.167L1985.2,216.8L1986.8,216.8L1988.5,220.167ZM1987.6,218L1989.3,212.7L1990.9,212.7L1992.6,218ZM1994.2,213.9L1995.9,209.7L1997.5,209.7L1999.2,213.9ZM1999.5,215L2001.2,209.7L2002.8,209.7L2004.5,215ZM2007.3,215L2009,208.5L2010.6,208.5L2012.3,215ZM2016.2,219.8L2017.9,216.8L2019.5,216.8L2021.2,219.8ZM2029.9,207.9L2031.6,203.1L2033.2,203.1L2034.9,207.9ZM2034.6,204.406L2036.3,200.8L2037.9,200.8L2039.6,204.406ZM2044.2,196.6L2045.9,193.6L2047.5,193.6L2049.2,196.6ZM2050.1,193.9L2051.8,190.6L2053.4,190.6L2055.1,193.9ZM2050.5,193.729L2052.2,191.2L2053.8,191.2L2055.5,193.729ZM2058.2,178.1L2059.9,173.4L2061.5,173.4L2063.2,178.1ZM2068.4,183.735L2070.1,182.3L2071.7,182.3L2073.4,183.735ZM2081.5,168.6L2083.2,161.5L2084.8,161.5L2086.5,168.6ZM2096.9,162L2098.6,155.5L2100.2,155.5L2101.9,162ZM2101.5,131.7L2103.2,127.5L2104.8,127.5L2106.5,131.7ZM2113.6,126.4L2115.3,123.4L2116.9,123.4L2118.6,126.4ZM2120.7,127L2122.4,123.4L2124,123.4L2125.7,127ZM2135.6,100.8L2137.3,93.6L2138.9,93.6L2140.6,100.8ZM2154.1,92.4L2155.8,90L2157.4,90L2159.1,92.4Z" stroke="#228b22" stroke-width="1.6" fill="#228b22" stroke-linejoin="round"/>
<path d="M172.5,1006.8 L172.4,1003.7 L172.9,1001.4 L172.9,1000.3 L172.5,998.7 L172.6,996.4 L172.8,993.3 L173.3,992.5 L177.9,993.1 L180.8,994.9 L181.6,993.2 L182.6,989.5 L182.3,990.6 L183,994.7 L183,994.9 L183.6,995.8 L183.6,998.4 L183,999.8 L183.2,1003.8 L183.2,1005 L183.8,1006.3 L183.8,1008.6 L184,1005.3 L183.6,1003.7 L184.3,1002.3 L184.1,1000.7 L184.4,997.8 L184.8,997 L184.4,994.6 L184.8,993.5 L185.1,989.7 L185,988.3 L187,989 L188,991.9 L188,994.6 L187.9,995.7 L187.9,998.1 L188.7,999.7 L188.6,1001.4 L192.1,1002 L196.9,1002 L197.4,999.4 L197.4,998.1 L197.5,995.6 L197.9,995 L197.7,992.1 L197.9,989.5 L199.9,990.1 L201.1,991.9 L200.9,994.5 L201.8,997.5 L202.2,997.4 L202,1000.6 L201.9,1002 L202.3,1003 L202.9,1006.2 L202.5,1005.1 L202.6,1001.6 L202.9,1001.6 L202.6,998.4 L203.1,997.9 L203.4,995.9 L202.9,992.6 L203.1,992.2 L203.7,988.1 L203,986.4 L203,985.3 L203.4,982.7 L202.9,981.3 L203.3,979.8 L203.9,978.3 L203.5,975.8 L206.4,975.2 L207.2,978 L208.2,978.7 L208.8,982.4 L210.7,984.7 L211.8,985.4 L212.7,984.4 L212.7,981.3 L212.9,980.1 L213.4,976.5 L214,974.9 L214.8,974 L215.8,971.1 L216.6,969.8 L218.3,969.3 L218.1,970.9 L218.2,974.4 L219,974.2 L218.9,976.8 L219.2,978.1 L219.8,982.6 L219.7,983.1 L219.5,983.9 L220.1,987.1 L221.9,985.4 L223.8,985.5 L226.1,987.1 L228.5,985.4 L233.8,985.4 L235.9,985.2 L237.4,987.1 L238.5,987.3 L240.6,983.7 L242.1,983.6 L242.3,984.2 L242.3,989.1 L242.8,990.4 L242.3,991.4 L242.3,994.7 L242.8,996.8 L242.7,997.2 L243.3,1001.5 L243.4,1003 L243.5,1004.9 L243.3,1006.2 L243.4,1008.4 L243.8,1009 L243.9,1011.9 L244.4,1015.3 L245.5,1016.7 L245.8,1020.4 L245.7,1021.1 L246.3,1018.7 L245.8,1016.3 L245.9,1014.3 L246.5,1014.4 L246.9,1011.2 L246.9,1010.2 L246.5,1007.8 L247.5,1006.2 L247.6,1003.3 L247.5,1001.4 L249.3,998.5 L252.3,997.9 L252.2,996.8 L252.5,994.8 L253.4,991.6 L253,991.3 L253.5,987 L253.5,986 L254,986.7 L255.2,989.5 L256.5,992.2 L257,993.1 L258.2,991.9 L257.9,994.8 L258.8,996.3 L258.2,997.9 L258,998.3 L258.9,1002.1 L258.5,1004.9 L258.4,1006.7 L258.9,1006.7 L258.3,1008.9 L258.4,1011.7 L258.4,1013.2 L258.3,1016.6 L258.6,1017.2 L258.8,1019.3 L259.2,1018.3 L259.3,1016.2 L259.7,1012.8 L260,1009.1 L260.2,1007.4 L260.6,1006.2 L263.6,1007.4 L264.6,1010.1 L266.5,1011 L266.4,1012.9 L267.2,1015.2 L267.1,1017.1 L267.6,1020 L267.4,1021.3 L267.8,1022.5 L268.3,1025.2 L269,1023.2 L269.2,1022 L269.9,1019.1 L270,1017.3 L270.3,1015.9 L270.7,1013.3 L273.7,1012.1 L273.9,1014.4 L274.2,1017.7 L274.6,1019.7 L275.1,1020 L274.9,1022.9 L275.2,1022.2 L275.6,1017.8 L275.1,1016.8 L275.3,1014.2 L275.5,1013.5 L276.4,1012.1 L276,1009.6 L276.7,1005.9 L277.1,1006.4 L276.6,1004.3 L277,1001 L277.3,999 L277.8,1001.9 L277.1,1002.7 L277.5,1004.4 L277.2,1006.3 L277.8,1007.3 L277.7,1010.5 L277.2,1012.1 L277.9,1014.6 L277.4,1018 L278.1,1019.9 L277.5,1019.7 L277.5,1023.2 L277.8,1023.2 L278,1027.5 L278.4,1027.5 L277.8,1031.5 L278.3,1032.8 L277.9,1032.8 L278.5,1035.8 L278,1039.3 L278.6,1040.9 L278.5,1041.9 L278.4,1040.8 L278.7,1038.7 L279.5,1035 L279.9,1034.6 L280.2,1031.2 L280.9,1028.3 L282,1027.6 L283,1028.8 L283.6,1030.6 L285,1033.6 L285.3,1034.8 L286.3,1037.2 L287.5,1039.2 L288,1041.9 L288.8,1042.7 L289.3,1044 L290,1045.8 L291,1049 L292.1,1047.4 L292.4,1045.4 L294.1,1042.5 L294.5,1041.9 L295.7,1039.3 L296.3,1037.1 L297.2,1040.5 L298.1,1041.9 L299,1043.7 L300.3,1046.9 L301.1,1047.3 L301.3,1046.3 L302,1043.6 L302.1,1040.7 L302.1,1038 L302.9,1037.1 L305.8,1036 L305.7,1038.6 L306.2,1038.8 L306.3,1042.8 L307.4,1044.2 L307.1,1044.9 L307.4,1047.4 L307.6,1049.3 L308.2,1051.4 L308.6,1055 L310,1055.9 L310.2,1058 L310,1057.5 L310,1053.8 L309.7,1051.9 L310.2,1050.4 L310,1048.5 L309.8,1045.9 L309.9,1044.4 L309.9,1041.4 L310.1,1040.1 L310.4,1039.1 L310.6,1037.6 L310.6,1036.3 L310.3,1032.8 L310.9,1030.3 L310.7,1029.9 L310,1028.6 L310.9,1026.1 L310.7,1024.7 L310.1,1022 L310.5,1021 L310.8,1019.1 L310.6,1017.4 L310.7,1014.9 L310.3,1011 L310.2,1010.1 L310.6,1008.6 L314.8,1009.8 L317.1,1011 L318.5,1010.8 L320.7,1008.6 L321.4,1006.6 L322,1004.3 L322.5,1001.4 L323.5,998.1 L324.8,998.6 L325.5,996.1 L326.4,994.1 L327.3,991.9 L327.5,992.6 L327.6,995.2 L327,997.2 L327.7,999.1 L327.8,1003.4 L327.6,1003.6 L327.6,1006.6 L327.9,1008.4 L327.9,1008.8 L327.4,1011.3 L328.1,1013.5 L327.9,1014.6 L327.9,1018.1 L328.5,1019.8 L330,1022.9 L330.2,1021.5 L330.3,1018.3 L330.2,1016.8 L330.2,1013.8 L330.7,1012.1 L330.8,1012.3 L329.9,1008.9 L330.7,1008.4 L330.4,1004.3 L330.2,1004.4 L330.3,1001.3 L330.3,999.1 L331.1,996 L331.1,995.1 L330.8,993.1 L333.3,993.1 L335,991.9 L337.4,994.3 L338.9,993.7 L341,990.7 L341.3,991.4 L341.2,995 L342,996.5 L342,998.8 L342.7,1001.4 L345.7,1001.4 L345.7,1000.4 L345.5,998 L346.5,994.1 L346.8,993.8 L346.9,990.5 L346.6,988.8 L347.3,987.3 L346.9,984.7 L346.9,981.6 L346.9,981.9 L347.5,978.8 L347.6,982.2 L348,982.4 L348.6,984.3 L348.8,988.7 L349.3,989.5 L352.9,989.5 L354,992.5 L354.5,994.9 L355.5,995.9 L355.8,997.9 L356.2,994.5 L356.3,993.6 L356.5,992.1 L356.2,988.2 L357,986.3 L356.7,984.9 L356.6,984 L357,981.2 L358.2,982.6 L358.7,984.8 L359.3,987.1 L360,989.5 L359.8,986.3 L359.9,986.4 L360.3,982.1 L360.8,982.3 L360.4,977.5 L360.6,976.4 L362.1,976.4 L364.2,978.8 L364.6,975.2 L365.1,973.3 L366,971.7 L368.3,972.3 L369.6,971.5 L370.9,968.1 L371.8,966.5 L373.1,964.5 L373.8,962.2 L374.3,960.3 L375.5,959.2 L379,959.2 L380.1,960 L380.2,963.4 L381.2,964.1 L381.4,966.9 L383,967.6 L385,969.9 L386.5,971.1 L388.7,973.7 L389.8,974 L391.3,970.8 L392.1,970.5 L394.5,968.7 L394.1,971.3 L395.1,972.5 L394.9,973 L394.8,977.7 L395.4,979.4 L395.6,979.5 L394.9,981.1 L395.4,984.6 L395.9,986.7 L395.7,988.7 L395.6,990 L395.3,992.6 L395.6,995 L396.1,995 L395.7,996.8 L396.3,1000.1 L396.3,1001.4 L396.1,998.2 L396.8,997.8 L396.9,994.8 L397.3,992.2 L397.2,991.7 L398.1,990.3 L398.3,987.9 L398.1,986 L398,987.2 L398.9,990.5 L398.4,990.3 L398.7,994.2 L398.8,994.9 L399.2,998.8 L398.9,998.1 L399.3,1001.4 L399.4,999.2 L400.1,996.6 L400.5,996.3 L400.5,992.8 L401.3,991.2 L401.4,989 L401.1,988.7 L401.7,986 L405.8,985.4 L405.7,988.7 L406,988.4 L405.8,991.1 L406.3,994.7 L405.9,995 L406,998.8 L406,998 L406,1001 L407,1004.5 L406.9,1006.8 L407.2,1006.8 L406.5,1010.6 L407.2,1009.9 L407,1013.3 L407.4,1014.9 L407.3,1016.8 L407.3,1017.8 L407.6,1020.8 L408.5,1022.1 L408.2,1025.2 L408.8,1022.3 L408.3,1022.2 L408.9,1019.1 L408.3,1017.2 L408.7,1016.6 L408.7,1012.9 L409.5,1009.9 L409.2,1010.3 L409.4,1007.4 L411.2,1004.5 L412.4,1004.3 L412.7,1005 L414.4,1007.5 L414.8,1010.2 L415.6,1009.3 L415.8,1005.4 L417,1004.3 L417.1,1001.9 L419,1000.7 L421.3,998.3 L421.3,999.7 L421.1,1003.3 L422.2,1005 L421.9,1006.7 L422.5,1007.3 L422,1010.6 L423,1014 L422.6,1013.9 L422.8,1016.6 L423.1,1018.6 L427.9,1018.6 L428.5,1019.7 L428.5,1023.5 L428.7,1025.6 L428.5,1026.9 L429.3,1028.2 L429.8,1030 L431,1031 L431.4,1034 L431.7,1037.2 L432.3,1037.5 L433.2,1041.2 L437.4,1040.6 L441,1041.2 L441.4,1043.8 L442.7,1046 L442.7,1045.5 L443.4,1043.6 L442.9,1038.9 L442.9,1038.2 L443.7,1036.2 L443.3,1034.1 L443.9,1033 L443.9,1030.5 L446.9,1030.5 L448.7,1028.1 L451.1,1026.9 L453.5,1028.7 L454.3,1027.5 L454.8,1023.2 L455.2,1022.1 L455.6,1019.5 L455.4,1017.7 L455.7,1015.1 L455.3,1013.2 L455.3,1013.1 L455.8,1009.4 L455.8,1007.9 L457.8,1007.6 L460,1004.3 L463,1003.1 L465.4,1005.5 L465.5,1002.7 L465.8,1002 L466.1,998.3 L465.6,998.5 L466.1,996.8 L465.3,992.9 L465.5,990.6 L466.4,989.8 L466,987.6 L467.6,989.6 L468.3,992.4 L470.5,990.4 L471.9,988.8 L476.7,988.2 L479,991.2 L479.7,990.2 L481.2,986.4 L481.8,986.2 L482.6,984 L485,984 L485,985.8 L485.1,987.4 L485.5,990.8 L486.1,991.8 L486.2,994.8 L486.5,991.9 L488,989.1 L488.6,987.6 L488.6,988.9 L489.3,992.1 L489.2,994.2 L492.1,992.4 L495.7,993.6 L495.9,990.2 L496.8,989.4 L497.5,987 L502.9,986.4 L507,985.8 L508.2,982.9 L508.8,983.1 L510.1,980.3 L511.2,979.3 L514.8,978.1 L516.5,978.7 L516.4,978 L516.6,974.9 L516.7,972.4 L517.3,972.1 L517.1,968.6 L518.5,969.4 L520.1,972.1 L521.3,968.6 L522.9,969.3 L523.6,972.9 L525.5,973.3 L525.6,976.3 L525.7,978.6 L526,978.5 L525.7,981.7 L526.5,984.8 L526.1,986 L526.5,987.8 L526.5,989.2 L527,993.1 L526.7,993.9 L527.3,996 L528,995.3 L527.8,990.7 L529,991.1 L529,987.6 L529.2,988.2 L529.8,991.2 L530,993.9 L530.1,994.5 L530.3,996.7 L530.2,999.5 L531.9,1002.3 L533.8,1003.1 L536.2,1002.5 L537.3,1003.3 L537.5,1005.8 L538.6,1007.9 L540.4,1009 L542.1,1010.8 L544.1,1010.9 L546.9,1012.6 L548.5,1015.8 L549.2,1016.8 L551.1,1018.6 L554.6,1018.6 L555,1019.1 L555.2,1021.3 L555.1,1024.5 L555.3,1025.7 L555.3,1028.5 L555.4,1030.6 L555.6,1031.9 L555.8,1034 L556.1,1032 L557.4,1028.5 L558.2,1026.9 L558.8,1025.7 L558.8,1021.8 L559.2,1019.5 L559.2,1018.4 L559.5,1016.3 L560.2,1014.4 L560.6,1014.9 L561.1,1017 L561.6,1021 L561.7,1020.8 L562.1,1023.6 L562.9,1024.8 L563.2,1029.3 L563.5,1030.7 L563.6,1031.7 L563.5,1031.2 L564.1,1029.2 L564.7,1024.9 L564.8,1025.3 L564.8,1022.1 L565.5,1023.7 L567.4,1025.1 L568.3,1028.1 L569.1,1025.1 L569.4,1022.3 L569.5,1021 L570.1,1024.6 L570.4,1025 L571.3,1028.1 L572.7,1029 L573.5,1030.1 L575,1033.8 L576.7,1034 L579,1032.9 L580.4,1031.7 L581.4,1028.1 L583.8,1027.5 L584.2,1030.1 L584.9,1031.2 L586.1,1032.4 L587.1,1034.8 L587.4,1036.4 L589.2,1035.2 L589.3,1038.3 L588.9,1040.5 L589.5,1040.6 L589.7,1042.1 L590,1045 L589.4,1047.5 L589.6,1047.6 L589.9,1049.1 L590.1,1051.7 L589.8,1054.3 L591.5,1056.7 L591.6,1060.2 L591.6,1061.2 L591.3,1061.3 L591,1063.7 L591.6,1066.6 L591.5,1070 L591.1,1070 L591.7,1071.4 L591,1074.4 L591.5,1076.9 L591.4,1074.5 L591.8,1073.2 L592.4,1070 L592.7,1068.9 L592.5,1068.3 L592.8,1063.9 L593,1063.4 L594,1061.8 L593.9,1059 L597.5,1057.9 L597.5,1059.3 L597.3,1062.6 L597.9,1063.9 L598.1,1066.3 L598.1,1068.6 L600.3,1070.5 L601.7,1071 L603.2,1073.4 L605.2,1073.3 L605.1,1075.3 L605.8,1076.4 L605.8,1079.9 L606.2,1081.1 L607,1082.9 L607.8,1079.8 L607.5,1079.2 L608.2,1076.9 L611.2,1075.7 L613,1077.6 L614.8,1078.7 L615.8,1079.5 L616.1,1081.7 L616.5,1085.2 L617.7,1085.8 L618.9,1084.4 L619.5,1081.7 L619.1,1080.7 L619.9,1077.5 L619.9,1075.5 L619.5,1072.4 L619.5,1070.2 L619.7,1070.3 L620.1,1068.5 L620.2,1064.8 L620.1,1063.2 L620.1,1061.4 L624.3,1060.8 L629,1060.2 L630.5,1058.2 L631.4,1056.1 L635,1055.5 L636.6,1056.8 L638.6,1057.3 L640.4,1056.1 L641.3,1053.3 L641.6,1050.7 L641.4,1049.5 L642.1,1048.3 L643.8,1050.8 L645.1,1050.7 L648.1,1051.3 L650.7,1052.3 L652.9,1054.3 L653.3,1056.2 L652.6,1060.3 L652.9,1061.4 L654.2,1060.2 L655.2,1057.9 L656.6,1061.7 L657.6,1062.6 L658.2,1061.4 L659,1059.2 L659.3,1056.6 L660,1053.7 L663.6,1053.9 L665.4,1055.4 L667.1,1058 L668.6,1059.3 L670.7,1059.8 L673.1,1059.2 L675.5,1061.6 L676.3,1061.3 L677.9,1058.6 L677.8,1054.8 L678.1,1055.2 L678.8,1051.5 L679.6,1053.9 L683.2,1054.5 L683.3,1055.4 L683.3,1057 L684.3,1060.7 L684.4,1062.2 L688.6,1061.6 L690.4,1060.4 L691.1,1063.3 L691,1065.1 L691.9,1067 L691.8,1066 L692.3,1064.3 L691.7,1062.3 L692.6,1060.6 L691.8,1056.4 L691.9,1054 L692.7,1054.4 L692.4,1051.5 L695.1,1050.9 L697.3,1053.1 L699.3,1053.3 L701.8,1053.5 L704,1055 L704.5,1056.2 L705.8,1059.8 L706.2,1061.2 L705.9,1064.1 L705.7,1065.9 L706.1,1069.5 L706.4,1071.1 L710,1070.5 L711.4,1068.8 L713,1068.1 L713.5,1066.2 L713.4,1064.6 L712.7,1062 L713.1,1061.1 L713.1,1059 L713.3,1055.5 L713.7,1053.2 L713.7,1051.5 L712.9,1049.7 L713.7,1050 L713,1046.6 L713.5,1045.6 L713.2,1042.7 L713.6,1040.8 L713.6,1043.8 L713.7,1046.2 L713.9,1046 L714.5,1048.9 L714.1,1051.3 L714.3,1053.8 L715.1,1055.8 L715.2,1056.5 L715.1,1058.7 L715.4,1061 L715.9,1057.8 L716.1,1055.7 L715.5,1054.5 L716.3,1053.2 L716,1052.4 L716,1049.2 L716.4,1048.1 L716.7,1045.9 L716.5,1043 L716.4,1042.6 L716.9,1039.6 L717.8,1042.7 L718.3,1044.3 L718.2,1046.1 L719.1,1048.5 L718.6,1050.1 L719.6,1051.4 L719.2,1053.5 L719.9,1057.1 L719.6,1057 L720,1059.5 L720.5,1060.9 L720.7,1063.9 L720.3,1065 L720.7,1068.7 L719.6,1071.4 L719.3,1071.7 L719.5,1074.1 L721.9,1076.5 L724.2,1076.2 L725.5,1074.1 L727.2,1076 L728.5,1078.3 L728.6,1080.6 L729,1081.3 L729.7,1082.7 L730.2,1086 L731.9,1088.1 L733.8,1088.4 L734.4,1090.5 L734.8,1092.4 L734.8,1094.9 L735.6,1096.7 L738.6,1097.9 L739,1100.5 L740,1101.5 L740.1,1104.3 L740.4,1104.7 L741,1107.4 L741.2,1110.5 L741.3,1112 L741.4,1113.9 L741.1,1115.2 L740.8,1117.7 L740.6,1119.1 L741.3,1121.9 L741.1,1122.5 L740.9,1125.1 L741.1,1127 L741.2,1130.5 L740.7,1131.7 L741.3,1132.9 L741,1136.6 L741,1137.2 L743.3,1139.6 L743.4,1141.6 L744.2,1144.2 L745.5,1145.4 L745.3,1147.4 L746.3,1149.1 L746.7,1147.4 L747.1,1144.8 L747.5,1142 L749,1144.4 L749.9,1146.7 L749.9,1150.1 L749.8,1151.3 L750,1153.6 L749.9,1156.3 L750.2,1155.6 L750.2,1158.7 L750.5,1161 L750.9,1162.8 L752.2,1165.7 L753,1166.5 L754,1169.3 L755.2,1172.9 L758.8,1171.7 L758.8,1170.5 L759.7,1168 L759.2,1166.9 L759.7,1163.2 L760,1162.2 L761.1,1161.2 L763,1158.6 L764.8,1157.4 L765.2,1160.1 L765,1162.1 L764.9,1165.6 L765.1,1166.9 L765.4,1168.7 L767.2,1168.2 L768.3,1165.8 L769.5,1167 L769.8,1164.5 L770.3,1162 L770.9,1160.8 L771.3,1158.6 L771.3,1157.4 L771.3,1158.6 L771.4,1160.4 L771,1164 L771.4,1164.5 L771.5,1167.2 L771.7,1169.7 L772,1170.8 L772.3,1174.3 L771.5,1176.2 L772.5,1178 L771.8,1180.1 L772.3,1179.6 L771.8,1184.4 L772.5,1184.3 L772,1186 L772.5,1189 L772.6,1187.9 L773.1,1184.2 L774.1,1184.2 L773.8,1182.6 L774.6,1180.4 L774.9,1177.7 L775.5,1181 L776,1182.9 L775.8,1184.5 L776.5,1186.8 L776.8,1189.3 L777.3,1190.2 L779,1187.2 L780.6,1188.3 L782,1190.8 L782,1187.6 L782.6,1185.3 L782.9,1183.5 L783.2,1182.4 L783.5,1181.5 L783.3,1179.3 L784.1,1176.4 L784.4,1174.1 L786.8,1175.3 L787.7,1178.3 L788.1,1179 L788.9,1181.2 L789.4,1177.9 L789.1,1177.6 L788.6,1175.4 L789.3,1174.4 L788.9,1172.5 L789.2,1169 L789.2,1167 L791.6,1166.8 L793.3,1169.3 L794.4,1167.6 L794.9,1166.2 L795.9,1163 L796.9,1161 L800.5,1159.8 L801.1,1158.7 L801.4,1155.8 L802.2,1154.2 L802.9,1152.1 L805.8,1153.3 L808.2,1151.5 L808.9,1152.9 L809.2,1155.2 L809.2,1156.8 L809.5,1160.9 L810,1162.3 L810.2,1163.4 L810.1,1160.9 L810.1,1159.7 L810.4,1158.3 L809.9,1156.2 L810.8,1153.7 L810,1151 L809.9,1148.7 L810.9,1148 L810.7,1146.5 L811,1144 L810.7,1142.1 L810.8,1140.1 L810.8,1136.9 L810.9,1135.7 L811,1132.7 L810.4,1130.5 L811.1,1131.2 L811,1127.6 L811.2,1126.8 L811,1123.3 L810.7,1121.8 L810.8,1119.9 L811,1118.1 L811.6,1121.4 L811.4,1122.3 L811.8,1122.9 L813,1126.3 L813.6,1127.9 L813.6,1130 L813.7,1127.6 L814.9,1127.2 L815.9,1123.7 L816,1121.7 L816.2,1122.6 L816.7,1125 L816.5,1126.5 L817.1,1130 L817.2,1128.5 L817.9,1127.2 L818.5,1124.9 L819.5,1121.7 L819.7,1118.4 L820.9,1117.1 L821.5,1115.1 L821.5,1114.9 L822.5,1112.2 L825.5,1112.2 L826,1115.1 L826.3,1114.7 L826.5,1118.5 L826.7,1121 L826.8,1123 L827.3,1123.5 L827.7,1120.1 L827.2,1120.1 L828.2,1116.5 L827.9,1116.5 L827.9,1115 L828.4,1110.6 L828.5,1110.3 L828.7,1108.7 L829,1106.2 L828.8,1105.2 L829.1,1102.8 L829.5,1100.3 L829.4,1099.5 L830,1097.6 L829.8,1094.2 L829.4,1094.3 L830.2,1092 L829.9,1089.4 L830.2,1087.2 L832.3,1086.6 L833.5,1083.4 L835,1082.4 L837.4,1083 L837.9,1086 L838.5,1087.3 L839.3,1089.8 L840.1,1089.9 L839.9,1091.7 L841,1094.3 L841.8,1092.2 L842.7,1089.6 L843.4,1093.1 L843,1095.3 L843.9,1096.7 L844.4,1095.7 L844.4,1091.8 L844.9,1091.4 L845,1089.6 L844.9,1085 L845.3,1085.1 L845.2,1082.8 L845.7,1080 L848.7,1077.7 L850.6,1079.3 L851.7,1082.4 L854.6,1080 L854.9,1082.9 L855,1083.9 L855.2,1087.2 L855.1,1086 L855.9,1083.3 L855.3,1082.4 L856.2,1078.8 L856.2,1078.8 L856.7,1075.8 L856.4,1074.1 L856.3,1071 L856.5,1070.6 L857,1068.1 L858.2,1066.8 L859.6,1065.2 L860.7,1062.3 L862.4,1062.2 L864.2,1062.2 L864.7,1063.8 L863.9,1066.5 L864.6,1067 L864.4,1069.6 L864.4,1070.6 L863.9,1075.4 L864.8,1075.9 L864.5,1077.2 L864.7,1079.6 L864.5,1081.8 L865.2,1080.6 L865.4,1079.3 L865.1,1074.5 L865.3,1073 L865.5,1070.7 L866.3,1071.2 L866.5,1068.1 L868,1068 L869.5,1065.2 L872.5,1064.6 L874.4,1060.9 L875.5,1059.8 L875.7,1061.6 L875.4,1065.5 L875.6,1066.4 L876.1,1069.7 L876.1,1070.5 L876.4,1068.2 L876.2,1065.6 L876.8,1066.1 L876.2,1061.3 L876.3,1060.3 L877,1060 L877,1055.4 L877.1,1055.5 L877,1054.3 L876.5,1049.9 L877.3,1050.3 L877.3,1046.4 L877.3,1045.8 L877.3,1043.1 L877.5,1044.5 L878.2,1045.8 L879,1047.9 L879.4,1049.7 L880.2,1052.7 L880.8,1053.3 L881.2,1056 L880.9,1060.2 L881.5,1062.3 L882.6,1064.3 L882.6,1065.2 L882.4,1063.1 L882.5,1062.6 L883.5,1059.7 L883.2,1056.9 L883.8,1055.3 L883.8,1052.4 L883.8,1051.5 L886.2,1050.3 L886.2,1050.9 L886.9,1054.3 L886.6,1057.1 L886.9,1057.6 L887.4,1059.8 L887.5,1057.1 L888.5,1055.3 L888.3,1053.8 L888.8,1053.1 L889,1051.3 L889.8,1047.9 L890.1,1051.1 L891.5,1051 L892.1,1053.9 L894.2,1052.7 L896.3,1052.7 L897.5,1056.2 L897.6,1053.4 L898,1053.9 L899,1051.9 L898.5,1048.1 L899.6,1045.5 L899.8,1044.4 L899.9,1043.1 L901.6,1040.1 L902.6,1039.5 L903.5,1038.4 L903.5,1039 L904.5,1042.8 L904.2,1044.6 L905.3,1046.1 L905.2,1049.1 L906.5,1046.4 L907.3,1046.7 L908.8,1044.3 L909.2,1045.4 L908.8,1047 L909.5,1050.2 L909.4,1051.4 L909.9,1054.8 L910,1056.2 L910.6,1058.4 L910.2,1058.8 L911,1061.8 L911.2,1062.7 L911.2,1066 L914.8,1065.4 L915.7,1063 L916.3,1062.6 L916.5,1058.1 L917.1,1057.6 L918.7,1059.5 L919.9,1060.9 L920.7,1063.6 L921.9,1062.8 L923.7,1060 L925.1,1060.2 L926.7,1062.4 L928.3,1063.6 L930.2,1064.2 L929.9,1066.4 L930.6,1068.5 L930.5,1071.3 L931.5,1073.9 L931.4,1074.9 L931.7,1073.3 L932.2,1071.2 L932.3,1069.3 L933.2,1066 L935.6,1064.8 L936.9,1062.4 L937.2,1060.1 L938,1057.6 L939.2,1054.4 L940.4,1054 L941.1,1055.3 L940.5,1057.1 L940.8,1061.4 L940.8,1061.4 L941.5,1064.8 L942.3,1066 L942.2,1069.2 L943.4,1071.1 L943.9,1073.1 L946.3,1073.1 L948.1,1072.5 L948.4,1069.4 L948.6,1069.2 L947.9,1065.5 L948.4,1064.7 L948.3,1061.6 L948.5,1059.7 L948.7,1058.8 L950.6,1058.1 L952.3,1055.2 L952.4,1057.5 L953.4,1058.4 L953.9,1062.8 L954,1063.6 L957.6,1063.6 L958.1,1065.4 L958.8,1067.7 L959.5,1065.9 L959.5,1065.3 L960.3,1061.6 L960.1,1059.7 L960.7,1059.7 L961.2,1056.4 L964.2,1055.2 L964.7,1058.4 L964.9,1060.2 L964.8,1061.2 L966.1,1060.1 L968.3,1058.8 L971.9,1057.6 L972.8,1056.7 L972.5,1052.9 L973.4,1050.5 L973.7,1048.7 L974.3,1045.5 L974.8,1044.9 L975,1041.8 L976.1,1041 L977.4,1044 L978.1,1045.7 L978.5,1047.5 L980.8,1045.7 L981.3,1044.7 L981.6,1039.9 L981.5,1038.4 L981.8,1036.3 L981.8,1036.1 L982,1032.6 L983.1,1029.9 L984,1028.5 L985,1026.7 L988.6,1027.3 L991,1026.7 L991.5,1028.2 L991,1031.5 L990.9,1033.5 L991.8,1035.5 L991.2,1037.5 L991.5,1039.8 L991.9,1036.8 L991.8,1034.9 L992.4,1033.8 L992.7,1031.4 L993.3,1030.2 L995.3,1029.7 L998.1,1029 L1001.1,1028.5 L1002.6,1027 L1003.5,1024.9 L1005.9,1024.5 L1008.2,1023.1 L1009.5,1024.9 L1011.4,1025.6 L1013,1026.7 L1013.3,1028.6 L1013.2,1029.9 L1013.6,1032.6 L1014.5,1030.6 L1016,1028.5 L1017.6,1029.6 L1019.5,1030.2 L1022.5,1031.4 L1025.2,1033.8 L1024.8,1031.3 L1025.7,1028.9 L1025.5,1027.6 L1025.3,1027.1 L1025.4,1024.4 L1025.3,1020.2 L1025.7,1019.5 L1029,1020.7 L1032.6,1019.5 L1033.4,1021.4 L1033.1,1023.4 L1033.9,1026.5 L1034.4,1027.9 L1034.6,1024.7 L1036.1,1023.8 L1036.2,1020.7 L1039.2,1019.5 L1039.1,1017 L1039.5,1016.1 L1039.9,1014.6 L1040.3,1011.6 L1040.4,1010.3 L1040.4,1007.6 L1042.1,1008.8 L1043.6,1010.5 L1044.5,1012.4 L1044.9,1015.1 L1045,1015.4 L1045.1,1017 L1045,1020.8 L1044.8,1024 L1045,1024.4 L1045.3,1027.8 L1045.1,1028.4 L1045.1,1030.8 L1045.9,1028.9 L1046.9,1026.6 L1047.5,1025.5 L1051.1,1024.3 L1052.3,1027.3 L1052.6,1025.5 L1053,1022.9 L1053.9,1022.5 L1054,1019.5 L1055.8,1020.7 L1056,1022.7 L1055.9,1024.5 L1056,1027.5 L1056.7,1028.2 L1057.2,1031.1 L1057,1033.8 L1060.6,1032.6 L1063.6,1034.4 L1066.5,1035 L1066.9,1034.1 L1067.1,1030.2 L1066.6,1030.4 L1066.2,1025.9 L1066.8,1025.3 L1067.2,1024.2 L1066.9,1022.9 L1066.9,1019.5 L1068.8,1020.2 L1070.7,1020.7 L1073,1019.5 L1074.9,1018.9 L1075.1,1017 L1075.4,1015.8 L1076,1012.3 L1076.1,1010 L1077.1,1011.4 L1079,1013.6 L1082,1012.4 L1083.1,1014.9 L1084.4,1017.1 L1086.8,1018.3 L1087,1021.4 L1087.5,1022.1 L1087.1,1024.4 L1087.8,1025.5 L1087.4,1027.9 L1091,1028.5 L1095.1,1027.9 L1096.5,1030.2 L1097.6,1030.1 L1099.3,1032 L1102.9,1031.4 L1105.8,1030.8 L1107.5,1033.9 L1108.2,1035 L1111.8,1034.4 L1114.8,1032.6 L1115.1,1029.5 L1115.8,1029.2 L1115.7,1026.7 L1117.3,1029.9 L1118.3,1030.2 L1120.7,1029 L1122.9,1029.7 L1124.3,1030.8 L1129,1031.4 L1129.1,1032.9 L1129.9,1035.6 L1130,1036.7 L1130.8,1039.8 L1131.8,1041.9 L1132.6,1043.3 L1132.6,1046.7 L1133,1045.8 L1133,1050 L1133.2,1051.1 L1139.8,1050.5 L1140.8,1052.8 L1142.1,1054 L1141.8,1051.5 L1142.7,1050.4 L1142.7,1047.3 L1142.7,1046.5 L1142.6,1044.8 L1143,1043.9 L1143.2,1040.3 L1143.3,1038.6 L1143.3,1039.5 L1144.3,1041.2 L1144,1043.3 L1144.8,1047.2 L1145.1,1048.1 L1146.4,1046.6 L1147.5,1043.3 L1150.5,1043.3 L1151.8,1043.6 L1154,1046.9 L1157.6,1046.3 L1159.9,1046.3 L1161.8,1046.9 L1163.6,1047.9 L1164.4,1045.6 L1165.5,1045.9 L1167.1,1043.1 L1170.7,1041.9 L1174.3,1041.3 L1175.6,1038.7 L1176.7,1037.1 L1179.6,1037.1 L1180.1,1034.8 L1180.2,1034.3 L1181.2,1031.2 L1181.5,1034.8 L1181.6,1035.9 L1181.6,1036.4 L1182.6,1041 L1182.2,1043.3 L1182.6,1044.3 L1185.6,1043.1 L1187.4,1044.3 L1188.6,1046.7 L1191,1049 L1191.3,1052.4 L1191.4,1054.3 L1191.3,1054.7 L1192,1056.2 L1191.7,1060.1 L1192.1,1061 L1192.3,1063.8 L1192.4,1063.9 L1192.7,1065.9 L1193.6,1068.1 L1193.4,1069.6 L1193.7,1072.3 L1193.9,1074.6 L1194,1071.3 L1193.9,1071.5 L1194.4,1067.7 L1194.4,1065.8 L1194.6,1063 L1195.3,1061.9 L1195,1060.9 L1195.1,1057.6 L1195.7,1056.2 L1197.1,1052.7 L1197.9,1051.4 L1198,1054.3 L1198.6,1054.3 L1198.3,1057.9 L1198.5,1060.5 L1198.5,1062.4 L1199,1062.2 L1199.1,1063.9 L1199.3,1066.9 L1200.7,1064.4 L1201.7,1063.3 L1202.4,1065.5 L1202.3,1066.4 L1202.9,1068.3 L1203.1,1071.1 L1203.8,1067.7 L1203.9,1066.7 L1204,1065.2 L1204.6,1062.1 L1207.6,1062.7 L1208.3,1065.4 L1209.3,1066.5 L1210,1069.3 L1212.4,1069.9 L1212.9,1066.3 L1213.3,1066.2 L1214.2,1062.7 L1217.1,1063.3 L1218.1,1062 L1219.5,1059.8 L1221.9,1059.2 L1224.3,1061.5 L1224.7,1059.9 L1225.8,1058 L1226.7,1056.2 L1226.6,1052.7 L1226.7,1051 L1226.6,1050.3 L1226.9,1047.2 L1227.6,1046.1 L1227.3,1043.1 L1229,1040.7 L1229.5,1043.7 L1228.9,1043.8 L1228.9,1046.9 L1229.6,1047.9 L1229.6,1050.2 L1229.9,1048.5 L1230.5,1045.2 L1231,1043.3 L1231.2,1040.7 L1231.4,1039.5 L1233.2,1041.9 L1233.1,1041.1 L1234,1038.4 L1233.6,1034.3 L1234.4,1033.6 L1237.4,1033 L1237.2,1030.1 L1237.4,1028.7 L1237.3,1026.5 L1238,1024.2 L1238.3,1023.4 L1238.3,1020.4 L1238.2,1019.8 L1238.2,1015.7 L1238.8,1016.1 L1238.6,1013.3 L1238.5,1010 L1239.2,1009.8 L1238.6,1006.8 L1238.8,1006.5 L1239,1004.9 L1239.7,1000.5 L1239.8,999.5 L1240,998.9 L1239.6,994.8 L1240.4,993.8 L1240.6,992.7 L1240.5,991.2 L1240.4,988.3 L1242.7,989.5 L1245.1,988.3 L1245.1,990.3 L1244.4,993.1 L1244.6,994.6 L1244.5,996.7 L1246,997.3 L1246.7,1000.2 L1247.6,996.9 L1248.2,997.2 L1248.7,994.3 L1249.3,992.4 L1250.8,990.7 L1251.1,988.3 L1252.6,989.9 L1254,993.1 L1253.8,994.9 L1254.3,996.6 L1254.4,998.6 L1255,1002.3 L1254.7,1003.2 L1255.2,1006.2 L1255.3,1008 L1255.8,1009.7 L1255.2,1013.3 L1255.1,1014.3 L1255.4,1017 L1255.6,1018.8 L1255.3,1020.5 L1255.8,1021.9 L1255.8,1024 L1256.7,1027.2 L1256.6,1027.9 L1257.5,1029.9 L1258.2,1033 L1261.2,1031.2 L1264.8,1031.2 L1264.8,1028.5 L1265.3,1027.8 L1266,1025.2 L1269.5,1024 L1272.5,1022.3 L1272.7,1023.4 L1272.8,1026.7 L1273.1,1028.1 L1273,1029.9 L1273.7,1033.6 L1277.3,1032.4 L1280.2,1031.2 L1283.8,1030 L1284.9,1028.4 L1285,1025.2 L1286.2,1024.7 L1288.7,1023.1 L1289.8,1021.7 L1292.1,1020.5 L1294.5,1021.1 L1294.2,1019 L1294.6,1016 L1294.8,1013.4 L1295.3,1013.2 L1295.1,1012 L1295.1,1008.6 L1299.3,1009.8 L1300.7,1010.8 L1301.7,1013.3 L1302.6,1014 L1304,1016.9 L1305,1015.3 L1307,1012.1 L1307.5,1009.3 L1306.9,1008.2 L1307.7,1007 L1307.1,1004.4 L1307.6,1001.4 L1308.7,1004.2 L1308.9,1004.7 L1310.2,1007.2 L1310.6,1009.8 L1310.8,1008 L1311.1,1006.8 L1311.2,1002.5 L1311.9,1002.3 L1312.4,1000.5 L1312.4,997.9 L1314.8,999 L1317.1,997.3 L1317.6,1000.7 L1317.4,1001.4 L1317.2,1002.8 L1317.7,1004.2 L1318,1006.5 L1317.8,1011 L1317.6,1010.2 L1318.1,1012.7 L1318.3,1015.7 L1320,1012.4 L1321.3,1012.1 L1323.7,1014.5 L1326.1,1016.9 L1326.5,1016 L1326.5,1012.7 L1326,1011.4 L1326.3,1008.7 L1326.2,1006.8 L1326.6,1006 L1326.9,1002 L1326.3,1000.9 L1326.6,998.6 L1326.3,995.8 L1326.5,995 L1326.7,993.1 L1330.2,994.3 L1332.2,997 L1333.2,997.3 L1333.7,996.8 L1333.9,993.7 L1333.9,990.1 L1333.9,989.7 L1333.6,987.7 L1334.4,985.4 L1334.2,982.9 L1334,982.7 L1333.8,978.6 L1334.4,977.6 L1338.6,978.2 L1341.5,977.6 L1343.9,978.8 L1344.7,976.7 L1344.7,975.3 L1345.7,972.9 L1345.7,971 L1345.9,968.7 L1346.1,966.1 L1345.8,963.3 L1346.3,962.1 L1348.2,963.4 L1349.3,964.5 L1352.3,963.9 L1352,963 L1352.3,958.8 L1352.7,957.3 L1352.8,956.2 L1352.6,954.3 L1352.6,952.2 L1353.2,948.9 L1353.2,946.9 L1353.3,947.4 L1353.5,944.3 L1354,947.2 L1354.6,947.6 L1355.3,951.6 L1355.2,953.2 L1355.6,952 L1356.7,947.9 L1357.6,946.7 L1359.3,948.9 L1360.3,949.5 L1361.2,952.6 L1363,950.1 L1364.2,950.2 L1367.7,950.8 L1369,951.8 L1370.4,953.9 L1372.5,955 L1373.7,952.9 L1375.5,952 L1378.1,951.2 L1380.2,950.8 L1381.5,949.1 L1382,946.7 L1384.2,946.9 L1384.7,945 L1384.8,943.9 L1384.1,941.5 L1384.4,939.5 L1384.8,937.7 L1384.3,934.3 L1384.8,932.6 L1388.3,932.6 L1390.3,935.7 L1391.9,936.2 L1392.4,937.1 L1392.6,939.4 L1392.8,943.8 L1393.1,945.1 L1393.3,944.2 L1394.5,940 L1394.9,938.6 L1395.2,936 L1396.4,934 L1396.7,931.4 L1396.4,927.9 L1396.5,928.2 L1396.6,925.4 L1396.8,923.8 L1397,920.1 L1397.6,919.3 L1397.3,917.1 L1397.8,916.1 L1398.4,911.8 L1398.2,910.4 L1398.7,910.6 L1399,907.6 L1401.4,908.8 L1402.1,909.5 L1401.8,913.9 L1402.7,914.7 L1402.9,916.1 L1403.6,918.9 L1404,921.7 L1403.6,922.9 L1404.4,925.5 L1404.4,924.8 L1405,920.3 L1404.8,919.4 L1405.3,918.1 L1405.5,915.5 L1405.3,914.3 L1405.9,910.7 L1406.3,911.7 L1406.1,907.2 L1406.8,906.4 L1407.3,907.9 L1407.3,910.7 L1407.6,913 L1408.3,916.3 L1408.6,917.1 L1409,913.7 L1408.6,913.9 L1408.8,912 L1408.5,909.6 L1408.2,906.5 L1408.6,906.3 L1408.7,903.8 L1408,902 L1408.4,899.3 L1408.2,896.8 L1408.1,895 L1408,893.3 L1407.8,890.4 L1408.2,890 L1408.6,886.2 L1408.7,883.8 L1408.6,881.5 L1408.8,879.2 L1408.5,879.5 L1409.1,876.3 L1409.3,873.9 L1409,871.2 L1409.3,870 L1409.8,868.8 L1410.1,866.2 L1409.8,864.7 L1411,867.1 L1412,869.8 L1412.1,871.9 L1411.7,869 L1412.2,869.4 L1412,866.8 L1412.1,865.1 L1411.8,862 L1412.6,859.4 L1412,856.7 L1411.9,855.4 L1412.5,853.3 L1412.2,851.3 L1412.4,851.3 L1412.5,847.3 L1412.6,847.7 L1412.5,843 L1412.7,843.4 L1412.3,839.3 L1412.2,838.5 L1412.5,836.4 L1413.6,838.6 L1414.4,839.1 L1414.6,842.5 L1415.5,843.6 L1415.9,841.2 L1416.1,838.9 L1415.7,837.1 L1415.9,835.6 L1416.5,833.1 L1416.9,830.3 L1417,827.5 L1417.3,826.9 L1420.2,824.5 L1421.5,827.1 L1422,829.3 L1422.7,825.9 L1422.5,825.9 L1422.3,822 L1422.3,820.1 L1423.1,817.9 L1423.3,816.8 L1423.2,815 L1423.2,813.3 L1423.2,811.5 L1423.2,808.5 L1423.3,806.3 L1423.2,805.9 L1423.2,802.5 L1423.2,802.5 L1422.8,798.4 L1422.9,798.4 L1422.4,793.7 L1422.7,793.6 L1423,790.7 L1423.2,788.4 L1422.9,786 L1422.6,785.2 L1422.2,782.1 L1422.4,781.2 L1423,778.3 L1423.4,776.9 L1422.7,774.3 L1423.4,774.6 L1423,769.9 L1423.7,768.6 L1424,767.3 L1423.7,764.9 L1424,763.3 L1423.8,761.4 L1426.8,760.2 L1429.2,762.6 L1429.1,761.9 L1428.9,759.4 L1428.9,757.2 L1429.3,755.9 L1429,753.1 L1429.4,752.2 L1430,749.4 L1429.4,746.3 L1429.5,744.9 L1429.5,742.3 L1429.8,741.2 L1432.1,742.4 L1432.5,744.9 L1432.2,748 L1432.3,748.7 L1432.4,751.7 L1433.3,751.9 L1433.4,755.6 L1433.3,756.7 L1433.7,754.1 L1434.5,753.7 L1434.8,750.9 L1435.7,748.3 L1437,750.6 L1438.1,753.1 L1441.7,753.1 L1444,753.7 L1445.1,752.6 L1445.7,750.5 L1447,747.1 L1448.4,749.1 L1450,749.5 L1452.4,750.7 L1454.8,748.9 L1461.9,748.9 L1463.8,749.4 L1464.9,751.9 L1466.7,754.9 L1468.8,754.9 L1470.2,751.9 L1471.4,751.9 L1471.5,752.6 L1471.7,757.6 L1471.9,759.5 L1472.4,761.1 L1472.7,761.5 L1473.6,763.4 L1473.8,766.8 L1474.6,766.3 L1476,764.3 L1476.8,761.4 L1478.6,764.4 L1480,761.2 L1480.3,761.7 L1481.5,759 L1484.5,759.6 L1486.5,759.1 L1488.1,761.4 L1491.1,762 L1491.3,763.5 L1491.5,765.3 L1491.3,770.3 L1491.9,772.2 L1492.3,773.3 L1495.2,772.1 L1495.2,774.3 L1495.5,776.3 L1496.2,778.7 L1496.1,777.3 L1496.2,775.6 L1496.8,771.8 L1497,771 L1502.4,771 L1504.2,773.9 L1506,771.5 L1508.9,773.3 L1509.7,776 L1510.7,778.7 L1512,775.5 L1512.5,773.3 L1517.3,773.3 L1517.4,772.3 L1518.5,769.3 L1518.5,766.2 L1520.2,765 L1521.8,765.2 L1523.8,767.4 L1524.8,767.6 L1526.2,770.4 L1526.9,768.9 L1528.6,767.4 L1531,767.4 L1531,765.6 L1531,762 L1531.4,761.9 L1531.3,759.6 L1531.5,758.9 L1531.7,756.1 L1531.3,752.9 L1531.4,752.9 L1531.5,749.5 L1532.9,748 L1534.5,747.1 L1535,744.1 L1536.2,741.7 L1536.3,741.2 L1540.5,740.6 L1540.8,743.8 L1540.6,744.8 L1540.9,745.7 L1540.9,747.3 L1541.7,751.2 L1541.9,751 L1541.7,754.3 L1541.9,755.8 L1541.9,758.5 L1541.7,761.8 L1541.4,763.1 L1542.3,764.4 L1542.1,767.9 L1541.8,768.8 L1542.3,770.1 L1542.3,772.1 L1542.2,774.8 L1542.4,775.9 L1542.4,778.6 L1542.3,780.5 L1543.2,782.6 L1544.4,785.3 L1545.8,785.8 L1547.3,785 L1548.8,782.9 L1551.2,780.5 L1551.3,778.5 L1551.2,775.6 L1552,774.9 L1551.7,773 L1551.8,771 L1554.8,771.5 L1556.5,771 L1556.9,768.1 L1556.4,767.6 L1556.8,764.9 L1557.3,763.5 L1557.1,760.2 L1561.3,760.2 L1563.2,757.1 L1564.3,756.7 L1566.5,757.1 L1569,755.5 L1569.7,752.4 L1569.5,750.8 L1570.2,749.5 L1572.2,748.5 L1575,748.3 L1578,747.7 L1578.5,745.8 L1578.3,742.5 L1578.3,743.2 L1578.8,739.5 L1578.7,738.6 L1579.2,734.6 L1579.2,733.3 L1579.2,731.7 L1583.9,732.9 L1584,734 L1583.8,736.3 L1583.9,737.2 L1583.8,740.8 L1583.6,741.6 L1584.3,743.8 L1584,745.6 L1584.5,747.1 L1584.4,751.4 L1584,752 L1584.6,754.5 L1584.2,754.7 L1584.3,757.6 L1584.6,759.3 L1584.4,762.3 L1584.5,763.8 L1585.8,765.4 L1586.4,768 L1587.5,769.8 L1589.3,772.1 L1590,769 L1590.3,768.5 L1589.9,766.2 L1590.1,762.3 L1590.5,761.4 L1592.3,763.4 L1593.5,766.2 L1593.9,768.3 L1594.6,771.3 L1594,772.9 L1594.8,774.6 L1595.2,776.9 L1596.1,774.6 L1596.4,773.9 L1596.9,770.6 L1597.6,768.6 L1598.8,768 L1600.2,766.1 L1601.2,763.8 L1602.9,761.2 L1604.8,761.4 L1605.3,759.4 L1605.7,757.9 L1605.4,754.1 L1605.7,753.8 L1606.5,750.7 L1616.7,750.1 L1616.4,746.8 L1617.2,746.3 L1616.6,744.6 L1617.4,742 L1617.3,740 L1620.8,738.8 L1620.6,737.2 L1621.2,734.8 L1622,733.3 L1622.1,729.2 L1622,728.1 L1622.6,730.5 L1623.1,734.3 L1624.4,735.2 L1625.7,732.1 L1627.4,730.5 L1628.4,732.1 L1629.8,735.2 L1630.4,733.2 L1630.2,730.6 L1630,728.1 L1631,727.4 L1631.2,723.6 L1631,722.1 L1630.7,722.7 L1631.1,725.6 L1631,727.9 L1631.1,729.5 L1631.4,730.9 L1631.5,733.9 L1630.6,735.1 L1631.1,737.4 L1631.2,739 L1630.9,742.4 L1630.9,744.1 L1631.4,745.7 L1631.1,748.7 L1631.1,750.4 L1630.7,751 L1631.3,751.8 L1631.5,753.8 L1631.3,756.1 L1631.2,759 L1632.1,757.2 L1632.4,755 L1632.7,753.6 L1632.8,750.2 L1633.8,748 L1633.9,747.1 L1634.7,743.9 L1634.3,741.2 L1635.1,740 L1636.9,739.6 L1638.1,736.4 L1640,736.4 L1640.4,738.8 L1640.7,741.5 L1641.6,741.1 L1641.5,744.7 L1642.4,746 L1644.3,746.4 L1647.1,744.8 L1651.9,744.8 L1651.9,742 L1652.4,740.3 L1652.6,737.8 L1653.1,736.3 L1653.2,733.8 L1653.1,732.9 L1655.5,730.5 L1656.4,734 L1656.6,733.2 L1657.2,737.1 L1657.9,738.8 L1660.8,737.6 L1660.5,735.8 L1660.4,733.6 L1661,731.6 L1661,728.7 L1661.1,726.8 L1661.2,727.5 L1661.2,724.2 L1660.6,721.7 L1661.1,720.2 L1661.2,717.1 L1660.8,717.5 L1660.9,714.6 L1660.4,711.4 L1660.6,711.8 L1661.1,707.9 L1661.2,705.3 L1660.9,706.2 L1660.6,704.2 L1661,699.6 L1660.6,698.9 L1660.8,697.1 L1661.1,695.5 L1662,692.4 L1661.9,691.3 L1662.2,687.1 L1662.7,685.2 L1662.9,685.3 L1663.1,682.4 L1663.2,680.5 L1662.8,678.6 L1662.9,677 L1663,674.8 L1663.3,672.2 L1663.7,669.5 L1663.3,669.9 L1663.5,667.6 L1664.1,664.5 L1663.8,662.6 L1663.6,663.3 L1664.5,665.3 L1664.2,668.5 L1664,670.2 L1664.2,672.3 L1664.6,673.7 L1664.5,675.8 L1664.6,676.9 L1664.8,681 L1665.2,683 L1664.8,685.1 L1665.4,686.6 L1665.6,687.6 L1666,686.1 L1666,684.3 L1666.3,680.8 L1666.5,679.1 L1667.3,676.8 L1668,674.1 L1668,673.3 L1668.1,670.6 L1668.1,670.3 L1668.2,666.3 L1667.7,666 L1668.5,662.4 L1668.1,662.5 L1668.3,659.5 L1668.3,658 L1668.4,654.7 L1668.4,654 L1667.9,651.1 L1667.7,651.2 L1668.2,647.5 L1667.8,645.6 L1667.7,643.9 L1667.8,644.3 L1668.5,641.8 L1668,639 L1668.3,638.3 L1668.3,635.6 L1667.7,633.7 L1668.3,632.3 L1667.6,630.2 L1667.8,626.6 L1668,625.7 L1668.6,624.2 L1668.6,620.5 L1668.8,620.9 L1669.1,618.3 L1669.2,616.4 L1669.1,613.2 L1669.2,611.4 L1672.7,610.2 L1672.9,609 L1672.9,605.4 L1672.9,604 L1672.7,600.7 L1672.7,600.6 L1672.1,597.7 L1673.9,597.1 L1674.4,595.7 L1675.2,591.5 L1676.2,590 L1676.2,587.2 L1676.3,587.2 L1676.6,584.7 L1676.4,582.9 L1676.8,580.6 L1677,579 L1676.6,574.8 L1676.9,575.1 L1676.8,572.1 L1679.2,574.5 L1679.7,577.2 L1680.9,580.2 L1681.2,581.7 L1680.8,579.7 L1680.9,576.7 L1681.8,575.6 L1681.7,573.8 L1681.5,571.2 L1681.6,571.1 L1681.9,567.5 L1681.9,566.2 L1685.7,566.2 L1685.5,567.6 L1686.3,570.2 L1686.4,573.4 L1686,575.1 L1686.1,577.6 L1686.4,578 L1687.4,580.4 L1687.1,582.9 L1686.9,582.1 L1687.4,580.1 L1687.3,576.9 L1687.9,575 L1688,572 L1688,570 L1687.7,567.5 L1687.5,568.3 L1687.9,565 L1688.9,563.5 L1689.9,560.2 L1689.1,557.6 L1688.3,556.1 L1688.5,553.8 L1687.4,552.9 L1686.9,549.5 L1687.5,548 L1686.9,545.8 L1687.5,544.8 L1687.7,541.9 L1688.2,539.1 L1688.3,537.9 L1688.9,535.4 L1688.6,534.8 L1688.5,532.4 L1689.4,529.5 L1689.4,528.1 L1690.1,526 L1689.9,523.3 L1696.4,523.3 L1697,524.3 L1697,527 L1697.6,530.5 L1699.6,529.9 L1700.6,526.9 L1700.4,525 L1700.9,521.3 L1700.9,521.2 L1701.2,517.7 L1701.2,516.2 L1701.8,513.7 L1702,512.2 L1702.8,510.9 L1702.9,509.1 L1703,506.7 L1707.7,506.1 L1707.6,509.4 L1708,510.6 L1707.7,511 L1708,514.9 L1708.3,515.4 L1707.7,517.9 L1708.5,518.8 L1708.4,520.8 L1708.1,522.4 L1708.3,525.7 L1710.1,527.5 L1709.8,529.1 L1710.3,532.8 L1709.4,532.8 L1710,534.4 L1709.3,537.1 L1708.9,538.5 L1709.2,541.2 L1709.5,539 L1710.5,536.7 L1710.2,536.7 L1710.8,534.6 L1711.3,531.7 L1714.3,534 L1714.5,532.9 L1714.2,529 L1714.7,528 L1714.6,526.6 L1714.8,523.4 L1714.5,523.4 L1714.7,519.5 L1714.8,517.4 L1715,514.8 L1715.1,514.4 L1714.7,513.5 L1714.9,510.2 L1715.5,511.8 L1716.1,515.1 L1717.3,517.4 L1717.9,515.8 L1717.9,514 L1717.9,510.4 L1718.8,510.2 L1719,506.7 L1720.9,506.4 L1722.6,504.9 L1722.9,502.5 L1723,501.4 L1722.4,498.2 L1722.9,495.9 L1722.3,495.4 L1722.6,492.2 L1722.6,490 L1724.3,490 L1725.6,487.6 L1725.2,485.1 L1725.2,483.4 L1725.6,482.7 L1725.8,479.9 L1725.5,477.9 L1725.6,475.7 L1728,478.1 L1727.8,477.2 L1728.3,475.2 L1727.7,472.8 L1728.3,470.4 L1728.4,469.6 L1728.2,467.4 L1728.1,465.7 L1728,462.6 L1731,462.6 L1730.6,461.3 L1731.1,459 L1730.6,455.4 L1730.8,455.8 L1730.4,452 L1730.3,449.6 L1730.7,450.3 L1730.8,446.5 L1730.6,443.7 L1730.7,442.5 L1729.8,441.5 L1729.8,438.5 L1729.7,437 L1730.1,436.1 L1729.5,434.2 L1729.5,430.5 L1730,428.9 L1729.8,427.4 L1730.2,425.5 L1730.7,424 L1731.2,422 L1732.4,419 L1732.7,416.7 L1732.4,419.5 L1732.6,420.6 L1733.1,421.2 L1733.5,425.2 L1733.6,426.1 L1733.7,428.6 L1733.6,431.4 L1734.5,433.2 L1734.6,433.7 L1734.8,434.9 L1734.5,438.1 L1734.6,435.1 L1734.8,434.8 L1735.2,432.2 L1735,429.5 L1735.2,427.8 L1735.2,427.3 L1735.7,424.5 L1735.6,423.3 L1735.7,420.1 L1736.3,419.5 L1736.8,417.7 L1737,416.3 L1736.7,413.1 L1737,415.7 L1736.5,416.1 L1736.5,420.1 L1737.3,421.3 L1737,422.5 L1737,425.2 L1737.9,426.2 L1737,427.8 L1737.5,431.9 L1738,432.5 L1737.4,433.4 L1737.6,437.4 L1738,440 L1738.1,440.5 L1739.3,439 L1739.7,436.7 L1740.5,433.3 L1740.7,434.4 L1741.8,437.8 L1742,439.3 L1742.9,442.3 L1742.9,441.6 L1744.2,439.7 L1745,436.3 L1745,434.5 L1745.2,432.2 L1745.3,431.6 L1744.6,427.1 L1744.6,426.8 L1744.7,423.1 L1745.2,423.5 L1744.8,419.3 L1745.2,418.8 L1744.3,416.2 L1744.9,415.9 L1744.7,413.1 L1744.4,410 L1745.1,408.4 L1744.2,407.1 L1744.6,404.8 L1751.2,404.8 L1751,401.8 L1751.5,400.9 L1751.8,399.2 L1751.7,395.2 L1752.2,393 L1752.1,392 L1752.4,390.8 L1752.4,388.1 L1754.2,390.5 L1754,392.8 L1754.5,394.2 L1754,397.4 L1754.5,396.8 L1754.2,401.5 L1754.3,401.6 L1754.9,404.8 L1754.8,406.4 L1754.3,406.4 L1754.8,409.5 L1756.2,412.5 L1756.1,412.3 L1757.2,417.1 L1758.3,417.9 L1758.2,416.4 L1759.1,414.2 L1759.2,411.1 L1758.6,408.3 L1759.4,406.5 L1759.8,406.3 L1759.5,403.6 L1761.9,403.6 L1763.1,400 L1762.8,399 L1762.8,396.2 L1762.7,395.1 L1763.5,393.6 L1762.6,391.4 L1763.2,389.4 L1763.1,386.9 L1763.2,385.5 L1762.7,381.4 L1763.1,380.1 L1763,377.4 L1763.3,375.5 L1763.1,375 L1770.2,375 L1771.1,378.3 L1771.2,378.6 L1771.8,382.1 L1772,379.3 L1771.7,377 L1772.3,376.4 L1771.7,373.1 L1772,373.4 L1772.1,369.2 L1771.8,368.4 L1773.2,371.4 L1775.6,372.6 L1778.6,371.4 L1778.6,372.9 L1779.1,374.5 L1779.1,379 L1779.4,378.1 L1778.8,380.5 L1779.6,384 L1779.6,385.7 L1779.6,388.2 L1779.8,389.9 L1781.1,389 L1782.1,385.7 L1782.7,384.2 L1783.3,382 L1783.3,378.6 L1787.5,378.6 L1788,379.5 L1788.3,384.2 L1788.3,386.5 L1788.4,389 L1789,389.9 L1789.3,388.3 L1789.5,384.9 L1790,382.7 L1790.5,381 L1791.6,379 L1793.5,377.4 L1793.9,375.9 L1793.8,374.2 L1793.6,372.9 L1793.5,368.8 L1792.9,367.2 L1792.6,364.7 L1793.4,364.7 L1792.8,362.3 L1792.9,359.5 L1795.8,360.7 L1796,359.9 L1796,356.8 L1795.3,355.7 L1795.5,353.1 L1795.5,350.8 L1796,347.6 L1795.6,347.1 L1795.5,346 L1795.4,343.9 L1795.6,342 L1795,337.8 L1795.1,337.8 L1794.8,333.9 L1795.5,334.1 L1794.9,330.4 L1795.2,328.6 L1798.2,329.8 L1799,332.3 L1799.6,334.4 L1799.7,334.8 L1800.1,338 L1801.2,339.3 L1802,340.9 L1803.3,344 L1804.1,342.3 L1804,340.2 L1804.3,338.2 L1804.3,334.1 L1804.8,333.3 L1807.7,334.5 L1807.7,335.4 L1808.4,338.2 L1808.9,341.7 L1808.9,339.8 L1810.1,338.5 L1809.7,336.9 L1809.9,333 L1810.4,332.1 L1811.1,330.3 L1811.3,328.6 L1812.1,325 L1812.5,323.8 L1813.1,325.2 L1813.1,326.2 L1813.2,328.7 L1813.3,332.3 L1813.3,332.7 L1812.7,334.3 L1813.7,336.1 L1813.6,339.3 L1813.7,340 L1813.7,342.9 L1813.9,339.8 L1815.4,338.7 L1815.7,337.3 L1815.8,333.9 L1816.7,333.3 L1818,336.2 L1820.2,336.9 L1820.2,340.3 L1820.8,341.7 L1821,343.9 L1821.5,344.7 L1822.2,345.9 L1822.3,350 L1822.9,351.2 L1822.7,348.8 L1823.2,346.2 L1822.7,344.1 L1822.9,342.4 L1823.2,340.7 L1823.5,337.3 L1823.3,337.6 L1823.2,334.5 L1823.5,335.5 L1824.4,339.3 L1827.4,340.5 L1827.9,336.9 L1828.6,336.3 L1829.2,333.3 L1832.1,335.7 L1835.7,335.7 L1835.5,336.5 L1836.1,338.7 L1836,341.5 L1836.1,342.3 L1836.6,345.5 L1836.9,347.6 L1837.8,345.6 L1837.4,342.5 L1838.6,341.4 L1839.2,340.4 L1839.3,336.9 L1841.2,334.5 L1842.3,334.5 L1843.1,336.6 L1842.7,337.5 L1843.7,339.7 L1843.2,341.8 L1844.4,344.4 L1844.6,345.3 L1844.6,348 L1845,350.6 L1844.7,349.2 L1844.8,345.6 L1845.4,344.8 L1844.6,341.4 L1845,341 L1844.3,339 L1845,337.2 L1844.5,335.2 L1844.8,333.7 L1844.3,332.3 L1845.1,330.2 L1845,327.1 L1844.6,325.6 L1848.8,325 L1849.5,326 L1849.1,329.3 L1850.1,329.7 L1849.7,331.5 L1850.2,333.8 L1850.6,336.9 L1850.8,335.7 L1851.7,334.3 L1852,331.5 L1852.1,330.3 L1852.8,326.9 L1853.6,325 L1856.5,323.8 L1856.6,327.2 L1856.7,329.3 L1856.9,329 L1857.2,331 L1857.5,333.7 L1856.8,337.3 L1857,337.6 L1857.1,340.4 L1856.9,341.6 L1857.1,344.9 L1857,346.3 L1857.4,347.8 L1857.7,350 L1857.9,352.9 L1857.5,353.7 L1857.6,358.1 L1858.1,358.9 L1858.4,355.6 L1859.5,354.8 L1860.1,352.4 L1861.5,353.4 L1862.1,357.1 L1862,354.2 L1862.6,353.1 L1862.6,352.4 L1863.1,350.4 L1863.6,346.7 L1863.7,345.2 L1863.1,344.7 L1863.3,340.1 L1863.7,339 L1864.6,338.8 L1864.3,335.7 L1865,333.8 L1866.2,332.7 L1866.7,329.8 L1867.1,331.9 L1866.9,333.2 L1867.7,336.3 L1868.2,339.3 L1868.6,339.3 L1868,343.4 L1868.8,343.4 L1869,346.4 L1870.2,343.7 L1870.7,342.1 L1872,340.5 L1872.1,339 L1871.8,337.2 L1872.5,334.3 L1872.7,333.3 L1872.1,330.3 L1872.9,328.9 L1873,325.3 L1873.4,325.1 L1872.8,322 L1873.2,320.2 L1875.2,317 L1876.2,315.5 L1876.6,314.8 L1877.5,310.5 L1877.8,308.8 L1878,307.1 L1878.4,309.8 L1878.1,310.1 L1878.4,312.2 L1878.4,313.8 L1879,316.5 L1878.9,319 L1880,320.9 L1879.8,322.6 L1879.9,325.1 L1880.2,325.4 L1880.5,326.9 L1880.9,329.2 L1881,332.1 L1882,331.9 L1883.6,330 L1884.5,327.4 L1888.1,326.2 L1889.3,328.7 L1890.2,330.4 L1890.7,329.6 L1890.7,326 L1890.4,324.9 L1890.5,321.4 L1891,320.5 L1891,319.4 L1890.8,315.4 L1890.2,314.5 L1890.9,311.8 L1890.7,310.5 L1891.8,310.2 L1893.7,312.9 L1893.6,311.5 L1893.6,308.1 L1894.1,307.6 L1895,303.5 L1894.3,304.3 L1894.9,301 L1896.9,301.7 L1897.9,304.5 L1898.8,302.5 L1899.8,300.1 L1901,297.6 L1902,296.2 L1901.7,292.9 L1902,290.8 L1902.6,290.5 L1902.4,288.7 L1903,285.3 L1902.9,282.7 L1903.5,281.8 L1903.2,279.5 L1908,278.9 L1908.8,279.7 L1910.4,282.5 L1911.5,279.5 L1912.2,281.3 L1912.7,283 L1913.2,286.8 L1913,288.3 L1913.9,290.2 L1913.8,288.6 L1914.6,286.7 L1914.2,282.4 L1914.9,281.7 L1914.5,278.4 L1915.1,277.1 L1917.3,274.2 L1919.3,273.6 L1924,273 L1926.5,271.3 L1928.8,271.2 L1931.2,268.8 L1931.1,270.6 L1931.4,273.4 L1931,275.4 L1931.3,276.1 L1931.8,279.3 L1931.8,280.7 L1933.4,280.7 L1934.8,278.3 L1935.7,279.5 L1937.1,281.9 L1937.2,279.2 L1936.7,277.2 L1937.3,277 L1937.2,275.5 L1937.3,271.6 L1936.8,270.9 L1936.5,268.6 L1936.5,265 L1937,263.3 L1937.3,263.6 L1936.9,260.5 L1937.7,261.6 L1938.3,264.5 L1939.5,266.4 L1940.1,263.9 L1940.9,262.3 L1941.6,259 L1941.9,258.1 L1942,259.9 L1942.8,261.6 L1943.5,263.7 L1943.6,266.6 L1944.3,268.8 L1948.5,268.8 L1950.2,271.4 L1951.4,272.4 L1951.6,274.4 L1952.5,278 L1952.6,277.6 L1952.8,281.4 L1953.2,283.1 L1956.2,284.9 L1955.8,281.1 L1956.3,281.3 L1955.6,277.7 L1956.7,279.1 L1958.6,280.7 L1959.1,277.7 L1959,276.7 L1959.8,273.6 L1963.3,272.4 L1964.8,274.6 L1965.7,277.1 L1966.5,275 L1968.1,273.6 L1968.7,276.9 L1969.6,276.8 L1971.2,278.2 L1971.5,279.9 L1972.9,283.1 L1972.7,281.3 L1973.5,278.3 L1972.9,278.2 L1973.3,275 L1973.1,272.8 L1974,270.5 L1973.4,270.5 L1974.2,269 L1973.9,267.3 L1974,264 L1977.6,262.9 L1977.9,260.1 L1978,259.2 L1978.6,255.3 L1978.3,255.6 L1978.8,252.1 L1978.7,254.9 L1979.3,255.1 L1979.6,257.6 L1980.7,258.5 L1980.9,260.9 L1980.5,264.1 L1981.2,265.2 L1981,262.2 L1981.1,262.1 L1981.6,259.4 L1980.7,257.9 L1981.3,256.3 L1981.7,252.6 L1981.5,252 L1981,248.6 L1981.1,246.6 L1981.2,245 L1982.5,245.2 L1983.7,249 L1985.4,249.2 L1985.4,247.3 L1986,245.4 L1985.5,243.7 L1986.2,241.6 L1986,237.9 L1986.3,236.7 L1986.4,233.2 L1986.3,231.6 L1986.6,228.8 L1986.3,227.5 L1986.7,225.5 L1986.7,225 L1986.8,220.9 L1986.5,220 L1988.7,219.2 L1990.1,217 L1991.1,219.3 L1991.2,221.7 L1992.5,222.4 L1993.3,220.4 L1993.8,219.4 L1994.9,217.8 L1995.1,214.3 L1996.1,212.9 L1996.2,213.7 L1996.6,215.5 L1997.4,218.2 L1997,219.7 L1998.1,222.1 L1998.1,224.8 L1998.5,227.1 L2000.3,226.1 L2001.4,222.4 L2001.5,220.7 L2002.4,218.1 L2002.7,216.8 L2002.6,214 L2003,217.5 L2003.9,217.6 L2004.4,221.2 L2005.2,220.4 L2005.9,217.6 L2006.6,216.9 L2007.4,214 L2010.4,214 L2010.7,215.2 L2010.6,217.8 L2011.3,220.9 L2011,222.4 L2014.5,222.4 L2016.2,221.8 L2018.7,218.8 L2020,220.9 L2022.3,222.4 L2023.7,224.9 L2025.2,226 L2026,227.1 L2027,230.7 L2028,229.7 L2029.3,226.3 L2030,224.8 L2029.8,223.6 L2030.5,220.1 L2030.7,220.5 L2030.4,216.8 L2030.6,215.2 L2031.3,214.4 L2031.2,210.5 L2031.8,209.7 L2032.4,206.9 L2032.6,209.2 L2033.4,211.7 L2033.5,214.7 L2034.8,215.6 L2034.8,217.6 L2035.4,214.8 L2035.9,214 L2036,213.1 L2036,211.4 L2036.2,206.8 L2036.8,207.6 L2037.1,204.5 L2039.1,204.7 L2040.3,203.5 L2041.9,201 L2043.6,198.1 L2045.2,198.3 L2046.7,195.6 L2047.3,197.8 L2047.9,198.8 L2048.8,201.4 L2049.6,203.3 L2050,200.2 L2050.1,199 L2051.3,198.3 L2051.3,195 L2052,193.8 L2054.1,191.9 L2056.2,192 L2058.6,192 L2059,190.2 L2059.3,189.2 L2059.2,186.1 L2059.9,184.4 L2060.1,182.1 L2059.9,180.3 L2060.4,177.1 L2060.9,177.7 L2061,180.9 L2060.3,181.7 L2061,185.5 L2060.5,186.8 L2061.1,190.4 L2060.9,191.7 L2060.9,191.9 L2060.9,194.5 L2061.4,196.2 L2061,197.9 L2061,199.8 L2061.4,202.7 L2061.3,204.5 L2061.7,208 L2061.8,209.9 L2061.9,210.5 L2063.7,207.8 L2065.5,206.9 L2066.3,207.6 L2066.7,209.2 L2068,213.6 L2068.5,214 L2068.6,211.6 L2068.7,209.6 L2069.2,207.7 L2068.8,207.2 L2069.4,202.6 L2069.8,202.8 L2069.5,200.5 L2070.2,197.9 L2069.9,195.6 L2070.2,194.7 L2070.5,193.6 L2070.1,189.8 L2070.9,189.1 L2070.8,186.8 L2070.9,184.3 L2073.2,181.9 L2073.9,185 L2075,185.2 L2075.6,186.1 L2076.8,189 L2079.8,187.9 L2080.3,186.8 L2079.5,183.4 L2080.1,181.9 L2080.1,181.2 L2080.1,178.1 L2080.4,176 L2082,178.2 L2082.8,179.5 L2083,177 L2083.1,175.9 L2083.7,172.8 L2083.5,171.2 L2083.7,170.8 L2084,167.6 L2084.8,168.7 L2085.3,172.2 L2085.8,173.6 L2086.9,174.8 L2087.4,171.9 L2088.5,171.7 L2089.9,168.8 L2090.3,170.2 L2091.1,172.5 L2092.3,175.4 L2092.6,174.2 L2092.9,172.9 L2092.7,171 L2092.3,169.1 L2092.7,165 L2092.9,164 L2095.2,163.9 L2097,161.7 L2099.4,161 L2099.6,162.5 L2100,166.4 L2101.1,165.4 L2101.6,164.3 L2101.8,159.7 L2103,159.3 L2102.6,155.9 L2103.1,155.8 L2102.5,152.5 L2102.5,151.9 L2102.9,151.1 L2102.6,149.2 L2102.6,145.5 L2102.4,143.1 L2103.1,143.5 L2102.7,139.1 L2102.2,137.1 L2102.3,136.9 L2102.4,134.3 L2103.5,132.6 L2105.4,130.7 L2106.4,131.3 L2106.9,135.6 L2107.8,136.7 L2111.3,135.5 L2113.7,137.9 L2114.1,135.8 L2114.7,134.2 L2114.4,131.6 L2115.3,131 L2115.6,128.2 L2115.5,126 L2117.2,124.4 L2119.7,124.8 L2120.3,127.1 L2120.7,129.3 L2122.2,130.2 L2122.6,131.9 L2122.7,130.8 L2123.7,128.5 L2124.4,126 L2125.7,128.3 L2126.7,130.5 L2128,130.7 L2129.7,129.6 L2130.4,126 L2130.5,123 L2130.3,120.5 L2130.4,118.8 L2132.8,116.4 L2135.7,117.6 L2136.1,116.4 L2136,114.4 L2136.2,111.9 L2135.7,109.3 L2138.1,106.9 L2137.9,105.3 L2137.9,102.5 L2138.1,99.8 L2139.9,102 L2142.3,102.1 L2143.5,103.2 L2144.7,105.7 L2146.3,102.6 L2147,102.1 L2147.9,105 L2147.5,107.1 L2148.4,109.6 L2148.8,110.5 L2149,108.3 L2149.5,105.3 L2149.5,103.3 L2149.1,101.4 L2149.8,100.4 L2149.8,97.8 L2150,97 L2149.5,94.6 L2150,92.6 L2153,92.6 L2156,91.4 L2157.8,94.4" stroke="#ff0000" stroke-width="3.8" fill="none" stroke-linejoin="round" stroke-linecap="round"/>
<text id="t0" x="74.47" y="210.4" textLength="76.13" lengthAdjust="spacingAndGlyphs">100.000</text>
<text id="t1" x="85.77" y="368.8" textLength="64.48" lengthAdjust="spacingAndGlyphs">80.000</text>
<text id="t2" x="85.77" y="527.9" textLength="64.48" lengthAdjust="spacingAndGlyphs">60.000</text>
<text id="t3" x="86.71" y="686.4" textLength="63.53" lengthAdjust="spacingAndGlyphs">40.000</text>
<text id="t4" x="85.77" y="845.8" textLength="64.48" lengthAdjust="spacingAndGlyphs">20.000</text>
<text id="t5" x="137.98" y="1004.25" textLength="12.68" lengthAdjust="spacingAndGlyphs">0</text>
<text id="t6" x="76.81" y="1163.9" textLength="73.58" lengthAdjust="spacingAndGlyphs">-20.000</text>
<text id="t7" x="505.61" y="1237" textLength="201.16" lengthAdjust="spacingAndGlyphs">02/12/2013 20:00:00</text>
<text id="t8" x="939.12" y="1237" textLength="201.56" lengthAdjust="spacingAndGlyphs">26/04/2017 19:00:00</text>
<text id="t9" x="1373.82" y="1237" textLength="201.56" lengthAdjust="spacingAndGlyphs">16/09/2020 01:00:00</text>
<text id="t10" x="1808.51" y="1237" textLength="201.37" lengthAdjust="spacingAndGlyphs">04/02/2024 19:00:00</text>
<text id="t11" x="1057.97" y="1277.2" textLength="47.76" lengthAdjust="spacingAndGlyphs">Date</text>
<text id="t12" x="939.00" y="1312.3" textLength="147.47" lengthAdjust="spacingAndGlyphs">Equity High ($)</text>
<text id="t13" x="1159.91" y="1312.3" textLength="140.49" lengthAdjust="spacingAndGlyphs">Equity Low ($)</text>
<text transform="translate(59.2,639.8) rotate(-90) scale(1.005,1.1)" text-anchor="middle">Equity ($)</text>
<path d="M897,1305.5H938.3" stroke="#228b22" stroke-width="2.6"/>
<path d="M1119.3,1305.5H1159.5" stroke="#ff0000" stroke-width="2.6"/>
</svg></body></html>
